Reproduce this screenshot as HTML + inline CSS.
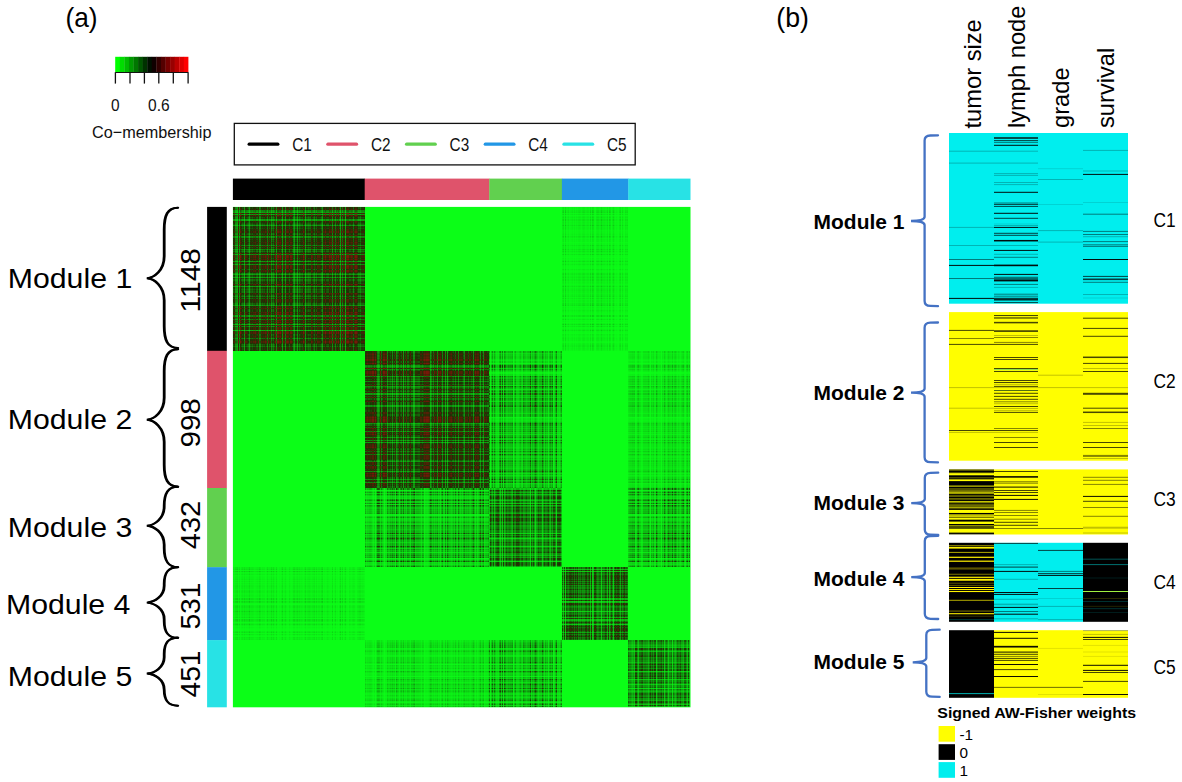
<!DOCTYPE html>
<html lang="en"><head><meta charset="utf-8"><title>Figure: co-membership heatmap and signed AW-Fisher weights</title>
<style>html,body{margin:0;padding:0;background:#fff}body{width:1182px;height:782px;overflow:hidden}svg{display:block}</style>
</head><body>
<svg width="1182" height="782" viewBox="0 0 1182 782" font-family='"Liberation Sans", sans-serif'>
<defs>
<g id="vc0"><rect x="0" width="1" height="1" fill="#c0c0c0"/><rect x="1" width="1" height="1" fill="#dddddd"/><rect x="2" width="1" height="1" fill="#7d7d7d"/><rect x="3" width="1" height="1" fill="#787878"/><rect x="4" width="1" height="1" fill="#616161"/><rect x="5" width="1" height="1" fill="#ffffff"/><rect x="6" width="1" height="1" fill="#6a6a6a"/><rect x="7" width="1" height="1" fill="#ffffff"/><rect x="8" width="1" height="1" fill="#cecece"/><rect x="9" width="1" height="1" fill="#ababab"/><rect x="10" width="1" height="1" fill="#bcbcbc"/><rect x="11" width="1" height="1" fill="#636363"/><rect x="12" width="1" height="1" fill="#e1e1e1"/><rect x="13" width="1" height="1" fill="#cbcbcb"/><rect x="14" width="1" height="1" fill="#b8b8b8"/><rect x="15" width="1" height="1" fill="#9f9f9f"/><rect x="16" width="1" height="1" fill="#696969"/><rect x="17" width="1" height="1" fill="#bcbcbc"/><rect x="18" width="1" height="1" fill="#cacaca"/><rect x="19" width="1" height="1" fill="#b4b4b4"/><rect x="20" width="1" height="1" fill="#d6d6d6"/><rect x="21" width="1" height="1" fill="#cecece"/><rect x="22" width="1" height="1" fill="#e9e9e9"/><rect x="23" width="1" height="1" fill="#bababa"/><rect x="24" width="1" height="1" fill="#adadad"/><rect x="25" width="1" height="1" fill="#e4e4e4"/><rect x="26" width="1" height="1" fill="#7c7c7c"/><rect x="27" width="1" height="1" fill="#888888"/><rect x="28" width="1" height="1" fill="#d3d3d3"/><rect x="29" width="1" height="1" fill="#bdbdbd"/><rect x="30" width="1" height="1" fill="#d3d3d3"/><rect x="31" width="1" height="1" fill="#c6c6c6"/><rect x="32" width="1" height="1" fill="#ececec"/><rect x="33" width="1" height="1" fill="#d4d4d4"/><rect x="34" width="1" height="1" fill="#8a8a8a"/><rect x="35" width="1" height="1" fill="#ededed"/><rect x="36" width="1" height="1" fill="#b4b4b4"/><rect x="37" width="1" height="1" fill="#d5d5d5"/><rect x="38" width="1" height="1" fill="#7a7a7a"/><rect x="39" width="1" height="1" fill="#ababab"/><rect x="40" width="1" height="1" fill="#8e8e8e"/><rect x="41" width="1" height="1" fill="#bdbdbd"/><rect x="42" width="1" height="1" fill="#f7f7f7"/><rect x="43" width="1" height="1" fill="#797979"/><rect x="44" width="1" height="1" fill="#ffffff"/><rect x="45" width="1" height="1" fill="#ffffff"/><rect x="46" width="1" height="1" fill="#dedede"/><rect x="47" width="1" height="1" fill="#ffffff"/><rect x="48" width="1" height="1" fill="#c9c9c9"/><rect x="49" width="1" height="1" fill="#6b6b6b"/><rect x="50" width="1" height="1" fill="#eaeaea"/><rect x="51" width="1" height="1" fill="#d4d4d4"/><rect x="52" width="1" height="1" fill="#777777"/><rect x="53" width="1" height="1" fill="#ededed"/><rect x="54" width="1" height="1" fill="#f6f6f6"/><rect x="55" width="1" height="1" fill="#ececec"/><rect x="56" width="1" height="1" fill="#b5b5b5"/><rect x="57" width="1" height="1" fill="#f3f3f3"/><rect x="58" width="1" height="1" fill="#f2f2f2"/><rect x="59" width="1" height="1" fill="#cccccc"/><rect x="60" width="1" height="1" fill="#858585"/><rect x="61" width="1" height="1" fill="#606060"/><rect x="62" width="1" height="1" fill="#b4b4b4"/><rect x="63" width="1" height="1" fill="#ababab"/><rect x="64" width="1" height="1" fill="#656565"/><rect x="65" width="1" height="1" fill="#c7c7c7"/><rect x="66" width="1" height="1" fill="#959595"/><rect x="67" width="1" height="1" fill="#b6b6b6"/><rect x="68" width="1" height="1" fill="#c8c8c8"/><rect x="69" width="1" height="1" fill="#b5b5b5"/><rect x="70" width="1" height="1" fill="#ffffff"/><rect x="71" width="1" height="1" fill="#d4d4d4"/><rect x="72" width="1" height="1" fill="#626262"/><rect x="73" width="1" height="1" fill="#bfbfbf"/><rect x="74" width="1" height="1" fill="#b4b4b4"/><rect x="75" width="1" height="1" fill="#9a9a9a"/><rect x="76" width="1" height="1" fill="#adadad"/><rect x="77" width="1" height="1" fill="#a1a1a1"/><rect x="78" width="1" height="1" fill="#ebebeb"/><rect x="79" width="1" height="1" fill="#d1d1d1"/><rect x="80" width="1" height="1" fill="#b4b4b4"/><rect x="81" width="1" height="1" fill="#8e8e8e"/><rect x="82" width="1" height="1" fill="#d0d0d0"/><rect x="83" width="1" height="1" fill="#a5a5a5"/><rect x="84" width="1" height="1" fill="#e0e0e0"/><rect x="85" width="1" height="1" fill="#d4d4d4"/><rect x="86" width="1" height="1" fill="#d1d1d1"/><rect x="87" width="1" height="1" fill="#c3c3c3"/><rect x="88" width="1" height="1" fill="#9f9f9f"/><rect x="89" width="1" height="1" fill="#6e6e6e"/><rect x="90" width="1" height="1" fill="#dddddd"/><rect x="91" width="1" height="1" fill="#cccccc"/><rect x="92" width="1" height="1" fill="#ffffff"/><rect x="93" width="1" height="1" fill="#cccccc"/><rect x="94" width="1" height="1" fill="#c3c3c3"/><rect x="95" width="1" height="1" fill="#c3c3c3"/><rect x="96" width="1" height="1" fill="#ffffff"/><rect x="97" width="1" height="1" fill="#dedede"/><rect x="98" width="1" height="1" fill="#fcfcfc"/><rect x="99" width="1" height="1" fill="#878787"/><rect x="100" width="1" height="1" fill="#f8f8f8"/><rect x="101" width="1" height="1" fill="#dbdbdb"/><rect x="102" width="1" height="1" fill="#909090"/><rect x="103" width="1" height="1" fill="#f5f5f5"/><rect x="104" width="1" height="1" fill="#d0d0d0"/><rect x="105" width="1" height="1" fill="#ffffff"/><rect x="106" width="1" height="1" fill="#bbbbbb"/><rect x="107" width="1" height="1" fill="#656565"/><rect x="108" width="1" height="1" fill="#f4f4f4"/><rect x="109" width="1" height="1" fill="#929292"/><rect x="110" width="1" height="1" fill="#eaeaea"/><rect x="111" width="1" height="1" fill="#e2e2e2"/><rect x="112" width="1" height="1" fill="#5c5c5c"/><rect x="113" width="1" height="1" fill="#efefef"/><rect x="114" width="1" height="1" fill="#ffffff"/><rect x="115" width="1" height="1" fill="#ffffff"/><rect x="116" width="1" height="1" fill="#cbcbcb"/><rect x="117" width="1" height="1" fill="#d2d2d2"/><rect x="118" width="1" height="1" fill="#ededed"/><rect x="119" width="1" height="1" fill="#dcdcdc"/><rect x="120" width="1" height="1" fill="#989898"/><rect x="121" width="1" height="1" fill="#dbdbdb"/><rect x="122" width="1" height="1" fill="#ffffff"/><rect x="123" width="1" height="1" fill="#fcfcfc"/><rect x="124" width="1" height="1" fill="#d5d5d5"/><rect x="125" width="1" height="1" fill="#a5a5a5"/><rect x="126" width="1" height="1" fill="#b0b0b0"/><rect x="127" width="1" height="1" fill="#909090"/><rect x="128" width="1" height="1" fill="#c1c1c1"/><rect x="129" width="1" height="1" fill="#c5c5c5"/><rect x="130" width="1" height="1" fill="#c0c0c0"/><rect x="131" width="1" height="1" fill="#d4d4d4"/></g>
<g id="hr0" fill="#000"><rect y="0" width="1" height="1" fill-opacity="0.24"/><rect y="1" width="1" height="1" fill-opacity="0.24"/><rect y="2" width="1" height="1" fill-opacity="0.13"/><rect y="3" width="1" height="1" fill-opacity="0.51"/><rect y="4" width="1" height="1" fill-opacity="0.53"/><rect y="5" width="1" height="1" fill-opacity="0.62"/><rect y="6" width="1" height="1" fill-opacity="0"/><rect y="7" width="1" height="1" fill-opacity="0.58"/><rect y="8" width="1" height="1" fill-opacity="0"/><rect y="9" width="1" height="1" fill-opacity="0.19"/><rect y="10" width="1" height="1" fill-opacity="0.33"/><rect y="11" width="1" height="1" fill-opacity="0.26"/><rect y="12" width="1" height="1" fill-opacity="0.61"/><rect y="13" width="1" height="1" fill-opacity="0.61"/><rect y="14" width="1" height="1" fill-opacity="0.12"/><rect y="15" width="1" height="1" fill-opacity="0.2"/><rect y="16" width="1" height="1" fill-opacity="0.28"/><rect y="17" width="1" height="1" fill-opacity="0.38"/><rect y="18" width="1" height="1" fill-opacity="0.59"/><rect y="19" width="1" height="1" fill-opacity="0.26"/><rect y="20" width="1" height="1" fill-opacity="0.21"/><rect y="21" width="1" height="1" fill-opacity="0.29"/><rect y="22" width="1" height="1" fill-opacity="0.16"/><rect y="23" width="1" height="1" fill-opacity="0.19"/><rect y="24" width="1" height="1" fill-opacity="0.08"/><rect y="25" width="1" height="1" fill-opacity="0.08"/><rect y="26" width="1" height="1" fill-opacity="0.27"/><rect y="27" width="1" height="1" fill-opacity="0.32"/><rect y="28" width="1" height="1" fill-opacity="0.1"/><rect y="29" width="1" height="1" fill-opacity="0.51"/><rect y="30" width="1" height="1" fill-opacity="0.47"/><rect y="31" width="1" height="1" fill-opacity="0.17"/><rect y="32" width="1" height="1" fill-opacity="0.26"/><rect y="33" width="1" height="1" fill-opacity="0.17"/><rect y="34" width="1" height="1" fill-opacity="0.22"/><rect y="35" width="1" height="1" fill-opacity="0.07"/><rect y="36" width="1" height="1" fill-opacity="0.17"/><rect y="37" width="1" height="1" fill-opacity="0.17"/><rect y="38" width="1" height="1" fill-opacity="0.46"/><rect y="39" width="1" height="1" fill-opacity="0.07"/><rect y="40" width="1" height="1" fill-opacity="0.29"/><rect y="41" width="1" height="1" fill-opacity="0.16"/><rect y="42" width="1" height="1" fill-opacity="0.52"/><rect y="43" width="1" height="1" fill-opacity="0.33"/><rect y="44" width="1" height="1" fill-opacity="0.44"/><rect y="45" width="1" height="1" fill-opacity="0.26"/><rect y="46" width="1" height="1" fill-opacity="0.03"/><rect y="47" width="1" height="1" fill-opacity="0.52"/><rect y="48" width="1" height="1" fill-opacity="0"/><rect y="49" width="1" height="1" fill-opacity="0"/><rect y="50" width="1" height="1" fill-opacity="0"/><rect y="51" width="1" height="1" fill-opacity="0.13"/><rect y="52" width="1" height="1" fill-opacity="0"/><rect y="53" width="1" height="1" fill-opacity="0.21"/><rect y="54" width="1" height="1" fill-opacity="0.58"/><rect y="55" width="1" height="1" fill-opacity="0.08"/><rect y="56" width="1" height="1" fill-opacity="0.17"/><rect y="57" width="1" height="1" fill-opacity="0.53"/><rect y="58" width="1" height="1" fill-opacity="0.07"/><rect y="59" width="1" height="1" fill-opacity="0.03"/><rect y="60" width="1" height="1" fill-opacity="0.07"/><rect y="61" width="1" height="1" fill-opacity="0.07"/><rect y="62" width="1" height="1" fill-opacity="0.29"/><rect y="63" width="1" height="1" fill-opacity="0.04"/><rect y="64" width="1" height="1" fill-opacity="0.05"/><rect y="65" width="1" height="1" fill-opacity="0.2"/><rect y="66" width="1" height="1" fill-opacity="0.48"/><rect y="67" width="1" height="1" fill-opacity="0.62"/><rect y="68" width="1" height="1" fill-opacity="0.29"/><rect y="69" width="1" height="1" fill-opacity="0.33"/><rect y="70" width="1" height="1" fill-opacity="0.6"/><rect y="71" width="1" height="1" fill-opacity="0.22"/><rect y="72" width="1" height="1" fill-opacity="0.41"/><rect y="73" width="1" height="1" fill-opacity="0.41"/><rect y="74" width="1" height="1" fill-opacity="0.29"/><rect y="75" width="1" height="1" fill-opacity="0.21"/><rect y="76" width="1" height="1" fill-opacity="0.29"/><rect y="77" width="1" height="1" fill-opacity="0"/><rect y="78" width="1" height="1" fill-opacity="0.17"/><rect y="79" width="1" height="1" fill-opacity="0.61"/><rect y="80" width="1" height="1" fill-opacity="0.25"/><rect y="81" width="1" height="1" fill-opacity="0.29"/><rect y="82" width="1" height="1" fill-opacity="0.39"/><rect y="83" width="1" height="1" fill-opacity="0.32"/><rect y="84" width="1" height="1" fill-opacity="0.37"/><rect y="85" width="1" height="1" fill-opacity="0.37"/><rect y="86" width="1" height="1" fill-opacity="0.08"/><rect y="87" width="1" height="1" fill-opacity="0.18"/><rect y="88" width="1" height="1" fill-opacity="0.29"/><rect y="89" width="1" height="1" fill-opacity="0.44"/><rect y="90" width="1" height="1" fill-opacity="0.18"/><rect y="91" width="1" height="1" fill-opacity="0.35"/><rect y="92" width="1" height="1" fill-opacity="0.12"/><rect y="93" width="1" height="1" fill-opacity="0.17"/><rect y="94" width="1" height="1" fill-opacity="0.18"/><rect y="95" width="1" height="1" fill-opacity="0.23"/><rect y="96" width="1" height="1" fill-opacity="0.38"/><rect y="97" width="1" height="1" fill-opacity="0.38"/><rect y="98" width="1" height="1" fill-opacity="0.57"/><rect y="99" width="1" height="1" fill-opacity="0.13"/><rect y="100" width="1" height="1" fill-opacity="0.2"/><rect y="101" width="1" height="1" fill-opacity="0"/><rect y="102" width="1" height="1" fill-opacity="0.2"/><rect y="103" width="1" height="1" fill-opacity="0.23"/><rect y="104" width="1" height="1" fill-opacity="0.23"/><rect y="105" width="1" height="1" fill-opacity="0"/><rect y="106" width="1" height="1" fill-opacity="0.13"/><rect y="107" width="1" height="1" fill-opacity="0.01"/><rect y="108" width="1" height="1" fill-opacity="0.47"/><rect y="109" width="1" height="1" fill-opacity="0.47"/><rect y="110" width="1" height="1" fill-opacity="0.02"/><rect y="111" width="1" height="1" fill-opacity="0.14"/><rect y="112" width="1" height="1" fill-opacity="0.43"/><rect y="113" width="1" height="1" fill-opacity="0.04"/><rect y="114" width="1" height="1" fill-opacity="0.18"/><rect y="115" width="1" height="1" fill-opacity="0"/><rect y="116" width="1" height="1" fill-opacity="0.27"/><rect y="117" width="1" height="1" fill-opacity="0.6"/><rect y="118" width="1" height="1" fill-opacity="0.04"/><rect y="119" width="1" height="1" fill-opacity="0.43"/><rect y="120" width="1" height="1" fill-opacity="0.08"/><rect y="121" width="1" height="1" fill-opacity="0.08"/><rect y="122" width="1" height="1" fill-opacity="0.11"/><rect y="123" width="1" height="1" fill-opacity="0.64"/><rect y="124" width="1" height="1" fill-opacity="0.06"/><rect y="125" width="1" height="1" fill-opacity="0"/><rect y="126" width="1" height="1" fill-opacity="0"/><rect y="127" width="1" height="1" fill-opacity="0.2"/><rect y="128" width="1" height="1" fill-opacity="0.17"/><rect y="129" width="1" height="1" fill-opacity="0.07"/><rect y="130" width="1" height="1" fill-opacity="0.13"/><rect y="131" width="1" height="1" fill-opacity="0.4"/><rect y="132" width="1" height="1" fill-opacity="0.14"/><rect y="133" width="1" height="1" fill-opacity="0.14"/><rect y="134" width="1" height="1" fill-opacity="0"/><rect y="135" width="1" height="1" fill-opacity="0.01"/><rect y="136" width="1" height="1" fill-opacity="0.16"/><rect y="137" width="1" height="1" fill-opacity="0.35"/><rect y="138" width="1" height="1" fill-opacity="0.31"/><rect y="139" width="1" height="1" fill-opacity="0.43"/><rect y="140" width="1" height="1" fill-opacity="0.24"/><rect y="141" width="1" height="1" fill-opacity="0.23"/><rect y="142" width="1" height="1" fill-opacity="0.25"/><rect y="143" width="1" height="1" fill-opacity="0.17"/></g>
<g id="vq0"><rect x="0" width="1" height="1" fill="#696969"/><rect x="1" width="1" height="1" fill="#555555"/><rect x="2" width="1" height="1" fill="#9e9e9e"/><rect x="3" width="1" height="1" fill="#acacac"/><rect x="4" width="1" height="1" fill="#d1d1d1"/><rect x="5" width="1" height="1" fill="#4d4d4d"/><rect x="6" width="1" height="1" fill="#afafaf"/><rect x="7" width="1" height="1" fill="#323232"/><rect x="8" width="1" height="1" fill="#767676"/><rect x="9" width="1" height="1" fill="#a2a2a2"/><rect x="10" width="1" height="1" fill="#626262"/><rect x="11" width="1" height="1" fill="#b7b7b7"/><rect x="12" width="1" height="1" fill="#6b6b6b"/><rect x="13" width="1" height="1" fill="#838383"/><rect x="14" width="1" height="1" fill="#787878"/><rect x="15" width="1" height="1" fill="#777777"/><rect x="16" width="1" height="1" fill="#e2e2e2"/><rect x="17" width="1" height="1" fill="#6e6e6e"/><rect x="18" width="1" height="1" fill="#808080"/><rect x="19" width="1" height="1" fill="#848484"/><rect x="20" width="1" height="1" fill="#6e6e6e"/><rect x="21" width="1" height="1" fill="#4e4e4e"/><rect x="22" width="1" height="1" fill="#595959"/><rect x="23" width="1" height="1" fill="#666666"/><rect x="24" width="1" height="1" fill="#7e7e7e"/><rect x="25" width="1" height="1" fill="#626262"/><rect x="26" width="1" height="1" fill="#c9c9c9"/><rect x="27" width="1" height="1" fill="#969696"/><rect x="28" width="1" height="1" fill="#4c4c4c"/><rect x="29" width="1" height="1" fill="#6e6e6e"/><rect x="30" width="1" height="1" fill="#606060"/><rect x="31" width="1" height="1" fill="#646464"/><rect x="32" width="1" height="1" fill="#2e2e2e"/><rect x="33" width="1" height="1" fill="#4e4e4e"/><rect x="34" width="1" height="1" fill="#b5b5b5"/><rect x="35" width="1" height="1" fill="#5c5c5c"/><rect x="36" width="1" height="1" fill="#616161"/><rect x="37" width="1" height="1" fill="#606060"/><rect x="38" width="1" height="1" fill="#c7c7c7"/><rect x="39" width="1" height="1" fill="#696969"/><rect x="40" width="1" height="1" fill="#b7b7b7"/><rect x="41" width="1" height="1" fill="#5d5d5d"/><rect x="42" width="1" height="1" fill="#404040"/><rect x="43" width="1" height="1" fill="#bbbbbb"/><rect x="44" width="1" height="1" fill="#3a3a3a"/><rect x="45" width="1" height="1" fill="#272727"/><rect x="46" width="1" height="1" fill="#4e4e4e"/><rect x="47" width="1" height="1" fill="#383838"/><rect x="48" width="1" height="1" fill="#646464"/><rect x="49" width="1" height="1" fill="#d0d0d0"/><rect x="50" width="1" height="1" fill="#444444"/><rect x="51" width="1" height="1" fill="#595959"/><rect x="52" width="1" height="1" fill="#9d9d9d"/><rect x="53" width="1" height="1" fill="#4b4b4b"/><rect x="54" width="1" height="1" fill="#3b3b3b"/><rect x="55" width="1" height="1" fill="#353535"/><rect x="56" width="1" height="1" fill="#8c8c8c"/><rect x="57" width="1" height="1" fill="#4f4f4f"/><rect x="58" width="1" height="1" fill="#3d3d3d"/><rect x="59" width="1" height="1" fill="#515151"/><rect x="60" width="1" height="1" fill="#aaaaaa"/><rect x="61" width="1" height="1" fill="#b9b9b9"/><rect x="62" width="1" height="1" fill="#666666"/><rect x="63" width="1" height="1" fill="#828282"/><rect x="64" width="1" height="1" fill="#b3b3b3"/><rect x="65" width="1" height="1" fill="#676767"/><rect x="66" width="1" height="1" fill="#9c9c9c"/><rect x="67" width="1" height="1" fill="#5f5f5f"/><rect x="68" width="1" height="1" fill="#717171"/><rect x="69" width="1" height="1" fill="#636363"/><rect x="70" width="1" height="1" fill="#414141"/><rect x="71" width="1" height="1" fill="#6e6e6e"/><rect x="72" width="1" height="1" fill="#d0d0d0"/><rect x="73" width="1" height="1" fill="#575757"/><rect x="74" width="1" height="1" fill="#7e7e7e"/><rect x="75" width="1" height="1" fill="#8f8f8f"/><rect x="76" width="1" height="1" fill="#9f9f9f"/><rect x="77" width="1" height="1" fill="#7a7a7a"/><rect x="78" width="1" height="1" fill="#5c5c5c"/><rect x="79" width="1" height="1" fill="#7f7f7f"/><rect x="80" width="1" height="1" fill="#8b8b8b"/><rect x="81" width="1" height="1" fill="#b6b6b6"/><rect x="82" width="1" height="1" fill="#4e4e4e"/><rect x="83" width="1" height="1" fill="#a9a9a9"/><rect x="84" width="1" height="1" fill="#505050"/><rect x="85" width="1" height="1" fill="#797979"/><rect x="86" width="1" height="1" fill="#797979"/><rect x="87" width="1" height="1" fill="#5a5a5a"/><rect x="88" width="1" height="1" fill="#a4a4a4"/><rect x="89" width="1" height="1" fill="#dedede"/><rect x="90" width="1" height="1" fill="#393939"/><rect x="91" width="1" height="1" fill="#5b5b5b"/><rect x="92" width="1" height="1" fill="#424242"/><rect x="93" width="1" height="1" fill="#505050"/><rect x="94" width="1" height="1" fill="#878787"/><rect x="95" width="1" height="1" fill="#616161"/><rect x="96" width="1" height="1" fill="#464646"/><rect x="97" width="1" height="1" fill="#3d3d3d"/><rect x="98" width="1" height="1" fill="#363636"/><rect x="99" width="1" height="1" fill="#c4c4c4"/><rect x="100" width="1" height="1" fill="#272727"/><rect x="101" width="1" height="1" fill="#474747"/><rect x="102" width="1" height="1" fill="#a2a2a2"/><rect x="103" width="1" height="1" fill="#313131"/><rect x="104" width="1" height="1" fill="#454545"/><rect x="105" width="1" height="1" fill="#1f1f1f"/><rect x="106" width="1" height="1" fill="#626262"/><rect x="107" width="1" height="1" fill="#e6e6e6"/><rect x="108" width="1" height="1" fill="#484848"/><rect x="109" width="1" height="1" fill="#b7b7b7"/><rect x="110" width="1" height="1" fill="#333333"/><rect x="111" width="1" height="1" fill="#616161"/><rect x="112" width="1" height="1" fill="#bdbdbd"/><rect x="113" width="1" height="1" fill="#434343"/><rect x="114" width="1" height="1" fill="#3b3b3b"/><rect x="115" width="1" height="1" fill="#2a2a2a"/><rect x="116" width="1" height="1" fill="#7d7d7d"/><rect x="117" width="1" height="1" fill="#626262"/><rect x="118" width="1" height="1" fill="#484848"/><rect x="119" width="1" height="1" fill="#6c6c6c"/><rect x="120" width="1" height="1" fill="#818181"/><rect x="121" width="1" height="1" fill="#747474"/><rect x="122" width="1" height="1" fill="#3a3a3a"/><rect x="123" width="1" height="1" fill="#2f2f2f"/><rect x="124" width="1" height="1" fill="#6e6e6e"/><rect x="125" width="1" height="1" fill="#7d7d7d"/><rect x="126" width="1" height="1" fill="#9f9f9f"/><rect x="127" width="1" height="1" fill="#a5a5a5"/><rect x="128" width="1" height="1" fill="#686868"/><rect x="129" width="1" height="1" fill="#7d7d7d"/><rect x="130" width="1" height="1" fill="#6e6e6e"/><rect x="131" width="1" height="1" fill="#4a4a4a"/></g>
<g id="hq0" fill="#000"><rect y="0" width="1" height="1" fill-opacity="0.59"/><rect y="1" width="1" height="1" fill-opacity="0.59"/><rect y="2" width="1" height="1" fill-opacity="0.67"/><rect y="3" width="1" height="1" fill-opacity="0.38"/><rect y="4" width="1" height="1" fill-opacity="0.32"/><rect y="5" width="1" height="1" fill-opacity="0.18"/><rect y="6" width="1" height="1" fill-opacity="0.7"/><rect y="7" width="1" height="1" fill-opacity="0.31"/><rect y="8" width="1" height="1" fill-opacity="0.8"/><rect y="9" width="1" height="1" fill-opacity="0.54"/><rect y="10" width="1" height="1" fill-opacity="0.36"/><rect y="11" width="1" height="1" fill-opacity="0.61"/><rect y="12" width="1" height="1" fill-opacity="0.28"/><rect y="13" width="1" height="1" fill-opacity="0.28"/><rect y="14" width="1" height="1" fill-opacity="0.58"/><rect y="15" width="1" height="1" fill-opacity="0.48"/><rect y="16" width="1" height="1" fill-opacity="0.53"/><rect y="17" width="1" height="1" fill-opacity="0.53"/><rect y="18" width="1" height="1" fill-opacity="0.11"/><rect y="19" width="1" height="1" fill-opacity="0.57"/><rect y="20" width="1" height="1" fill-opacity="0.5"/><rect y="21" width="1" height="1" fill-opacity="0.48"/><rect y="22" width="1" height="1" fill-opacity="0.56"/><rect y="23" width="1" height="1" fill-opacity="0.69"/><rect y="24" width="1" height="1" fill-opacity="0.65"/><rect y="25" width="1" height="1" fill-opacity="0.65"/><rect y="26" width="1" height="1" fill-opacity="0.6"/><rect y="27" width="1" height="1" fill-opacity="0.5"/><rect y="28" width="1" height="1" fill-opacity="0.61"/><rect y="29" width="1" height="1" fill-opacity="0.21"/><rect y="30" width="1" height="1" fill-opacity="0.41"/><rect y="31" width="1" height="1" fill-opacity="0.7"/><rect y="32" width="1" height="1" fill-opacity="0.57"/><rect y="33" width="1" height="1" fill-opacity="0.62"/><rect y="34" width="1" height="1" fill-opacity="0.6"/><rect y="35" width="1" height="1" fill-opacity="0.82"/><rect y="36" width="1" height="1" fill-opacity="0.69"/><rect y="37" width="1" height="1" fill-opacity="0.69"/><rect y="38" width="1" height="1" fill-opacity="0.29"/><rect y="39" width="1" height="1" fill-opacity="0.64"/><rect y="40" width="1" height="1" fill-opacity="0.62"/><rect y="41" width="1" height="1" fill-opacity="0.62"/><rect y="42" width="1" height="1" fill-opacity="0.22"/><rect y="43" width="1" height="1" fill-opacity="0.59"/><rect y="44" width="1" height="1" fill-opacity="0.28"/><rect y="45" width="1" height="1" fill-opacity="0.63"/><rect y="46" width="1" height="1" fill-opacity="0.75"/><rect y="47" width="1" height="1" fill-opacity="0.26"/><rect y="48" width="1" height="1" fill-opacity="0.77"/><rect y="49" width="1" height="1" fill-opacity="0.77"/><rect y="50" width="1" height="1" fill-opacity="0.85"/><rect y="51" width="1" height="1" fill-opacity="0.69"/><rect y="52" width="1" height="1" fill-opacity="0.78"/><rect y="53" width="1" height="1" fill-opacity="0.61"/><rect y="54" width="1" height="1" fill-opacity="0.18"/><rect y="55" width="1" height="1" fill-opacity="0.73"/><rect y="56" width="1" height="1" fill-opacity="0.65"/><rect y="57" width="1" height="1" fill-opacity="0.38"/><rect y="58" width="1" height="1" fill-opacity="0.7"/><rect y="59" width="1" height="1" fill-opacity="0.77"/><rect y="60" width="1" height="1" fill-opacity="0.79"/><rect y="61" width="1" height="1" fill-opacity="0.79"/><rect y="62" width="1" height="1" fill-opacity="0.45"/><rect y="63" width="1" height="1" fill-opacity="0.69"/><rect y="64" width="1" height="1" fill-opacity="0.76"/><rect y="65" width="1" height="1" fill-opacity="0.68"/><rect y="66" width="1" height="1" fill-opacity="0.33"/><rect y="67" width="1" height="1" fill-opacity="0.27"/><rect y="68" width="1" height="1" fill-opacity="0.6"/><rect y="69" width="1" height="1" fill-opacity="0.49"/><rect y="70" width="1" height="1" fill-opacity="0.3"/><rect y="71" width="1" height="1" fill-opacity="0.59"/><rect y="72" width="1" height="1" fill-opacity="0.38"/><rect y="73" width="1" height="1" fill-opacity="0.38"/><rect y="74" width="1" height="1" fill-opacity="0.62"/><rect y="75" width="1" height="1" fill-opacity="0.55"/><rect y="76" width="1" height="1" fill-opacity="0.61"/><rect y="77" width="1" height="1" fill-opacity="0.74"/><rect y="78" width="1" height="1" fill-opacity="0.57"/><rect y="79" width="1" height="1" fill-opacity="0.18"/><rect y="80" width="1" height="1" fill-opacity="0.66"/><rect y="81" width="1" height="1" fill-opacity="0.51"/><rect y="82" width="1" height="1" fill-opacity="0.44"/><rect y="83" width="1" height="1" fill-opacity="0.37"/><rect y="84" width="1" height="1" fill-opacity="0.52"/><rect y="85" width="1" height="1" fill-opacity="0.52"/><rect y="86" width="1" height="1" fill-opacity="0.64"/><rect y="87" width="1" height="1" fill-opacity="0.5"/><rect y="88" width="1" height="1" fill-opacity="0.45"/><rect y="89" width="1" height="1" fill-opacity="0.29"/><rect y="90" width="1" height="1" fill-opacity="0.69"/><rect y="91" width="1" height="1" fill-opacity="0.33"/><rect y="92" width="1" height="1" fill-opacity="0.68"/><rect y="93" width="1" height="1" fill-opacity="0.52"/><rect y="94" width="1" height="1" fill-opacity="0.52"/><rect y="95" width="1" height="1" fill-opacity="0.65"/><rect y="96" width="1" height="1" fill-opacity="0.36"/><rect y="97" width="1" height="1" fill-opacity="0.36"/><rect y="98" width="1" height="1" fill-opacity="0.13"/><rect y="99" width="1" height="1" fill-opacity="0.77"/><rect y="100" width="1" height="1" fill-opacity="0.64"/><rect y="101" width="1" height="1" fill-opacity="0.74"/><rect y="102" width="1" height="1" fill-opacity="0.69"/><rect y="103" width="1" height="1" fill-opacity="0.47"/><rect y="104" width="1" height="1" fill-opacity="0.62"/><rect y="105" width="1" height="1" fill-opacity="0.72"/><rect y="106" width="1" height="1" fill-opacity="0.76"/><rect y="107" width="1" height="1" fill-opacity="0.79"/><rect y="108" width="1" height="1" fill-opacity="0.23"/><rect y="109" width="1" height="1" fill-opacity="0.23"/><rect y="110" width="1" height="1" fill-opacity="0.85"/><rect y="111" width="1" height="1" fill-opacity="0.72"/><rect y="112" width="1" height="1" fill-opacity="0.36"/><rect y="113" width="1" height="1" fill-opacity="0.81"/><rect y="114" width="1" height="1" fill-opacity="0.73"/><rect y="115" width="1" height="1" fill-opacity="0.88"/><rect y="116" width="1" height="1" fill-opacity="0.61"/><rect y="117" width="1" height="1" fill-opacity="0.09"/><rect y="118" width="1" height="1" fill-opacity="0.72"/><rect y="119" width="1" height="1" fill-opacity="0.28"/><rect y="120" width="1" height="1" fill-opacity="0.8"/><rect y="121" width="1" height="1" fill-opacity="0.8"/><rect y="122" width="1" height="1" fill-opacity="0.62"/><rect y="123" width="1" height="1" fill-opacity="0.26"/><rect y="124" width="1" height="1" fill-opacity="0.73"/><rect y="125" width="1" height="1" fill-opacity="0.77"/><rect y="126" width="1" height="1" fill-opacity="0.83"/><rect y="127" width="1" height="1" fill-opacity="0.51"/><rect y="128" width="1" height="1" fill-opacity="0.61"/><rect y="129" width="1" height="1" fill-opacity="0.71"/><rect y="130" width="1" height="1" fill-opacity="0.57"/><rect y="131" width="1" height="1" fill-opacity="0.49"/><rect y="132" width="1" height="1" fill-opacity="0.54"/><rect y="133" width="1" height="1" fill-opacity="0.54"/><rect y="134" width="1" height="1" fill-opacity="0.77"/><rect y="135" width="1" height="1" fill-opacity="0.81"/><rect y="136" width="1" height="1" fill-opacity="0.57"/><rect y="137" width="1" height="1" fill-opacity="0.51"/><rect y="138" width="1" height="1" fill-opacity="0.37"/><rect y="139" width="1" height="1" fill-opacity="0.35"/><rect y="140" width="1" height="1" fill-opacity="0.59"/><rect y="141" width="1" height="1" fill-opacity="0.51"/><rect y="142" width="1" height="1" fill-opacity="0.57"/><rect y="143" width="1" height="1" fill-opacity="0.71"/></g>
<g id="vc1"><rect x="0" width="1" height="1" fill="#c5c5c5"/><rect x="1" width="1" height="1" fill="#d8d8d8"/><rect x="2" width="1" height="1" fill="#eeeeee"/><rect x="3" width="1" height="1" fill="#d2d2d2"/><rect x="4" width="1" height="1" fill="#d7d7d7"/><rect x="5" width="1" height="1" fill="#e8e8e8"/><rect x="6" width="1" height="1" fill="#dcdcdc"/><rect x="7" width="1" height="1" fill="#ffffff"/><rect x="8" width="1" height="1" fill="#ffffff"/><rect x="9" width="1" height="1" fill="#c9c9c9"/><rect x="10" width="1" height="1" fill="#ffffff"/><rect x="11" width="1" height="1" fill="#c2c2c2"/><rect x="12" width="1" height="1" fill="#797979"/><rect x="13" width="1" height="1" fill="#6b6b6b"/><rect x="14" width="1" height="1" fill="#888888"/><rect x="15" width="1" height="1" fill="#ffffff"/><rect x="16" width="1" height="1" fill="#8b8b8b"/><rect x="17" width="1" height="1" fill="#c4c4c4"/><rect x="18" width="1" height="1" fill="#ffffff"/><rect x="19" width="1" height="1" fill="#ffffff"/><rect x="20" width="1" height="1" fill="#dbdbdb"/><rect x="21" width="1" height="1" fill="#f5f5f5"/><rect x="22" width="1" height="1" fill="#787878"/><rect x="23" width="1" height="1" fill="#c1c1c1"/><rect x="24" width="1" height="1" fill="#bcbcbc"/><rect x="25" width="1" height="1" fill="#a0a0a0"/><rect x="26" width="1" height="1" fill="#bfbfbf"/><rect x="27" width="1" height="1" fill="#717171"/><rect x="28" width="1" height="1" fill="#c1c1c1"/><rect x="29" width="1" height="1" fill="#9d9d9d"/><rect x="30" width="1" height="1" fill="#e5e5e5"/><rect x="31" width="1" height="1" fill="#6d6d6d"/><rect x="32" width="1" height="1" fill="#8f8f8f"/><rect x="33" width="1" height="1" fill="#a6a6a6"/><rect x="34" width="1" height="1" fill="#e7e7e7"/><rect x="35" width="1" height="1" fill="#b4b4b4"/><rect x="36" width="1" height="1" fill="#989898"/><rect x="37" width="1" height="1" fill="#dddddd"/><rect x="38" width="1" height="1" fill="#5f5f5f"/><rect x="39" width="1" height="1" fill="#c8c8c8"/><rect x="40" width="1" height="1" fill="#9a9a9a"/><rect x="41" width="1" height="1" fill="#e9e9e9"/><rect x="42" width="1" height="1" fill="#949494"/><rect x="43" width="1" height="1" fill="#959595"/><rect x="44" width="1" height="1" fill="#bfbfbf"/><rect x="45" width="1" height="1" fill="#eeeeee"/><rect x="46" width="1" height="1" fill="#ababab"/><rect x="47" width="1" height="1" fill="#b3b3b3"/><rect x="48" width="1" height="1" fill="#666666"/><rect x="49" width="1" height="1" fill="#696969"/><rect x="50" width="1" height="1" fill="#b8b8b8"/><rect x="51" width="1" height="1" fill="#b8b8b8"/><rect x="52" width="1" height="1" fill="#b1b1b1"/><rect x="53" width="1" height="1" fill="#a6a6a6"/><rect x="54" width="1" height="1" fill="#a8a8a8"/><rect x="55" width="1" height="1" fill="#dadada"/><rect x="56" width="1" height="1" fill="#d8d8d8"/><rect x="57" width="1" height="1" fill="#bababa"/><rect x="58" width="1" height="1" fill="#dcdcdc"/><rect x="59" width="1" height="1" fill="#ffffff"/><rect x="60" width="1" height="1" fill="#e9e9e9"/><rect x="61" width="1" height="1" fill="#ffffff"/><rect x="62" width="1" height="1" fill="#ffffff"/><rect x="63" width="1" height="1" fill="#f9f9f9"/><rect x="64" width="1" height="1" fill="#dddddd"/><rect x="65" width="1" height="1" fill="#646464"/><rect x="66" width="1" height="1" fill="#8c8c8c"/><rect x="67" width="1" height="1" fill="#c6c6c6"/><rect x="68" width="1" height="1" fill="#939393"/><rect x="69" width="1" height="1" fill="#eeeeee"/><rect x="70" width="1" height="1" fill="#c4c4c4"/><rect x="71" width="1" height="1" fill="#d5d5d5"/><rect x="72" width="1" height="1" fill="#797979"/><rect x="73" width="1" height="1" fill="#fbfbfb"/><rect x="74" width="1" height="1" fill="#d5d5d5"/><rect x="75" width="1" height="1" fill="#f7f7f7"/><rect x="76" width="1" height="1" fill="#c3c3c3"/><rect x="77" width="1" height="1" fill="#757575"/><rect x="78" width="1" height="1" fill="#d0d0d0"/><rect x="79" width="1" height="1" fill="#d1d1d1"/><rect x="80" width="1" height="1" fill="#6d6d6d"/><rect x="81" width="1" height="1" fill="#cacaca"/><rect x="82" width="1" height="1" fill="#5d5d5d"/><rect x="83" width="1" height="1" fill="#bdbdbd"/><rect x="84" width="1" height="1" fill="#d6d6d6"/><rect x="85" width="1" height="1" fill="#e1e1e1"/><rect x="86" width="1" height="1" fill="#f3f3f3"/><rect x="87" width="1" height="1" fill="#c2c2c2"/><rect x="88" width="1" height="1" fill="#b1b1b1"/><rect x="89" width="1" height="1" fill="#d8d8d8"/><rect x="90" width="1" height="1" fill="#939393"/><rect x="91" width="1" height="1" fill="#d0d0d0"/><rect x="92" width="1" height="1" fill="#dcdcdc"/><rect x="93" width="1" height="1" fill="#7e7e7e"/><rect x="94" width="1" height="1" fill="#d8d8d8"/><rect x="95" width="1" height="1" fill="#d5d5d5"/><rect x="96" width="1" height="1" fill="#dadada"/><rect x="97" width="1" height="1" fill="#cacaca"/><rect x="98" width="1" height="1" fill="#989898"/><rect x="99" width="1" height="1" fill="#737373"/><rect x="100" width="1" height="1" fill="#dbdbdb"/><rect x="101" width="1" height="1" fill="#cecece"/><rect x="102" width="1" height="1" fill="#d6d6d6"/><rect x="103" width="1" height="1" fill="#a2a2a2"/><rect x="104" width="1" height="1" fill="#e5e5e5"/><rect x="105" width="1" height="1" fill="#d7d7d7"/><rect x="106" width="1" height="1" fill="#b2b2b2"/><rect x="107" width="1" height="1" fill="#c5c5c5"/><rect x="108" width="1" height="1" fill="#6d6d6d"/><rect x="109" width="1" height="1" fill="#c5c5c5"/><rect x="110" width="1" height="1" fill="#ffffff"/><rect x="111" width="1" height="1" fill="#d7d7d7"/><rect x="112" width="1" height="1" fill="#f3f3f3"/><rect x="113" width="1" height="1" fill="#ececec"/><rect x="114" width="1" height="1" fill="#b9b9b9"/><rect x="115" width="1" height="1" fill="#6c6c6c"/><rect x="116" width="1" height="1" fill="#cbcbcb"/><rect x="117" width="1" height="1" fill="#afafaf"/><rect x="118" width="1" height="1" fill="#6d6d6d"/><rect x="119" width="1" height="1" fill="#eaeaea"/><rect x="120" width="1" height="1" fill="#c6c6c6"/><rect x="121" width="1" height="1" fill="#d5d5d5"/><rect x="122" width="1" height="1" fill="#b7b7b7"/><rect x="123" width="1" height="1" fill="#bfbfbf"/></g>
<g id="hr1" fill="#000"><rect y="0" width="1" height="1" fill-opacity="0.23"/><rect y="1" width="1" height="1" fill-opacity="0.23"/><rect y="2" width="1" height="1" fill-opacity="0.15"/><rect y="3" width="1" height="1" fill-opacity="0.07"/><rect y="4" width="1" height="1" fill-opacity="0.18"/><rect y="5" width="1" height="1" fill-opacity="0.15"/><rect y="6" width="1" height="1" fill-opacity="0.09"/><rect y="7" width="1" height="1" fill-opacity="0.14"/><rect y="8" width="1" height="1" fill-opacity="0"/><rect y="9" width="1" height="1" fill-opacity="0"/><rect y="10" width="1" height="1" fill-opacity="0.21"/><rect y="11" width="1" height="1" fill-opacity="0.21"/><rect y="12" width="1" height="1" fill-opacity="0"/><rect y="13" width="1" height="1" fill-opacity="0.24"/><rect y="14" width="1" height="1" fill-opacity="0.53"/><rect y="15" width="1" height="1" fill-opacity="0.58"/><rect y="16" width="1" height="1" fill-opacity="0.47"/><rect y="17" width="1" height="1" fill-opacity="0"/><rect y="18" width="1" height="1" fill-opacity="0.45"/><rect y="19" width="1" height="1" fill-opacity="0.23"/><rect y="20" width="1" height="1" fill-opacity="0"/><rect y="21" width="1" height="1" fill-opacity="0"/><rect y="22" width="1" height="1" fill-opacity="0"/><rect y="23" width="1" height="1" fill-opacity="0.14"/><rect y="24" width="1" height="1" fill-opacity="0.04"/><rect y="25" width="1" height="1" fill-opacity="0.53"/><rect y="26" width="1" height="1" fill-opacity="0.24"/><rect y="27" width="1" height="1" fill-opacity="0.26"/><rect y="28" width="1" height="1" fill-opacity="0.37"/><rect y="29" width="1" height="1" fill-opacity="0.25"/><rect y="30" width="1" height="1" fill-opacity="0.55"/><rect y="31" width="1" height="1" fill-opacity="0.24"/><rect y="32" width="1" height="1" fill-opacity="0.24"/><rect y="33" width="1" height="1" fill-opacity="0.38"/><rect y="34" width="1" height="1" fill-opacity="0.1"/><rect y="35" width="1" height="1" fill-opacity="0.57"/><rect y="36" width="1" height="1" fill-opacity="0.44"/><rect y="37" width="1" height="1" fill-opacity="0.35"/><rect y="38" width="1" height="1" fill-opacity="0.09"/><rect y="39" width="1" height="1" fill-opacity="0.29"/><rect y="40" width="1" height="1" fill-opacity="0.4"/><rect y="41" width="1" height="1" fill-opacity="0.13"/><rect y="42" width="1" height="1" fill-opacity="0.63"/><rect y="43" width="1" height="1" fill-opacity="0.63"/><rect y="44" width="1" height="1" fill-opacity="0.21"/><rect y="45" width="1" height="1" fill-opacity="0.4"/><rect y="46" width="1" height="1" fill-opacity="0.09"/><rect y="47" width="1" height="1" fill-opacity="0.42"/><rect y="48" width="1" height="1" fill-opacity="0.42"/><rect y="49" width="1" height="1" fill-opacity="0.25"/><rect y="50" width="1" height="1" fill-opacity="0.06"/><rect y="51" width="1" height="1" fill-opacity="0.33"/><rect y="52" width="1" height="1" fill-opacity="0.3"/><rect y="53" width="1" height="1" fill-opacity="0.3"/><rect y="54" width="1" height="1" fill-opacity="0.6"/><rect y="55" width="1" height="1" fill-opacity="0.59"/><rect y="56" width="1" height="1" fill-opacity="0.28"/><rect y="57" width="1" height="1" fill-opacity="0.28"/><rect y="58" width="1" height="1" fill-opacity="0.3"/><rect y="59" width="1" height="1" fill-opacity="0.35"/><rect y="60" width="1" height="1" fill-opacity="0.34"/><rect y="61" width="1" height="1" fill-opacity="0.14"/><rect y="62" width="1" height="1" fill-opacity="0.15"/><rect y="63" width="1" height="1" fill-opacity="0.27"/><rect y="64" width="1" height="1" fill-opacity="0.27"/><rect y="65" width="1" height="1" fill-opacity="0.14"/><rect y="66" width="1" height="1" fill-opacity="0"/><rect y="67" width="1" height="1" fill-opacity="0.08"/><rect y="68" width="1" height="1" fill-opacity="0"/><rect y="69" width="1" height="1" fill-opacity="0"/><rect y="70" width="1" height="1" fill-opacity="0.02"/><rect y="71" width="1" height="1" fill-opacity="0.13"/><rect y="72" width="1" height="1" fill-opacity="0.61"/><rect y="73" width="1" height="1" fill-opacity="0.45"/><rect y="74" width="1" height="1" fill-opacity="0.45"/><rect y="75" width="1" height="1" fill-opacity="0.22"/><rect y="76" width="1" height="1" fill-opacity="0.42"/><rect y="77" width="1" height="1" fill-opacity="0.06"/><rect y="78" width="1" height="1" fill-opacity="0.23"/><rect y="79" width="1" height="1" fill-opacity="0.16"/><rect y="80" width="1" height="1" fill-opacity="0.52"/><rect y="81" width="1" height="1" fill-opacity="0.02"/><rect y="82" width="1" height="1" fill-opacity="0.16"/><rect y="83" width="1" height="1" fill-opacity="0.03"/><rect y="84" width="1" height="1" fill-opacity="0.23"/><rect y="85" width="1" height="1" fill-opacity="0.23"/><rect y="86" width="1" height="1" fill-opacity="0.54"/><rect y="87" width="1" height="1" fill-opacity="0.18"/><rect y="88" width="1" height="1" fill-opacity="0.18"/><rect y="89" width="1" height="1" fill-opacity="0.57"/><rect y="90" width="1" height="1" fill-opacity="0.21"/><rect y="91" width="1" height="1" fill-opacity="0.63"/><rect y="92" width="1" height="1" fill-opacity="0.26"/><rect y="93" width="1" height="1" fill-opacity="0.16"/><rect y="94" width="1" height="1" fill-opacity="0.12"/><rect y="95" width="1" height="1" fill-opacity="0.12"/><rect y="96" width="1" height="1" fill-opacity="0.04"/><rect y="97" width="1" height="1" fill-opacity="0.24"/><rect y="98" width="1" height="1" fill-opacity="0.3"/><rect y="99" width="1" height="1" fill-opacity="0.15"/><rect y="100" width="1" height="1" fill-opacity="0.42"/><rect y="101" width="1" height="1" fill-opacity="0.18"/><rect y="102" width="1" height="1" fill-opacity="0.14"/><rect y="103" width="1" height="1" fill-opacity="0.5"/><rect y="104" width="1" height="1" fill-opacity="0.15"/><rect y="105" width="1" height="1" fill-opacity="0.16"/><rect y="106" width="1" height="1" fill-opacity="0.16"/><rect y="107" width="1" height="1" fill-opacity="0.14"/><rect y="108" width="1" height="1" fill-opacity="0.21"/><rect y="109" width="1" height="1" fill-opacity="0.4"/><rect y="110" width="1" height="1" fill-opacity="0.55"/><rect y="111" width="1" height="1" fill-opacity="0.14"/><rect y="112" width="1" height="1" fill-opacity="0.19"/><rect y="113" width="1" height="1" fill-opacity="0.16"/><rect y="114" width="1" height="1" fill-opacity="0.36"/><rect y="115" width="1" height="1" fill-opacity="0.1"/><rect y="116" width="1" height="1" fill-opacity="0.1"/><rect y="117" width="1" height="1" fill-opacity="0.15"/><rect y="118" width="1" height="1" fill-opacity="0.3"/><rect y="119" width="1" height="1" fill-opacity="0.22"/><rect y="120" width="1" height="1" fill-opacity="0.57"/><rect y="121" width="1" height="1" fill-opacity="0.22"/><rect y="122" width="1" height="1" fill-opacity="0"/><rect y="123" width="1" height="1" fill-opacity="0.15"/><rect y="124" width="1" height="1" fill-opacity="0.04"/><rect y="125" width="1" height="1" fill-opacity="0.07"/><rect y="126" width="1" height="1" fill-opacity="0.27"/><rect y="127" width="1" height="1" fill-opacity="0.27"/><rect y="128" width="1" height="1" fill-opacity="0.57"/><rect y="129" width="1" height="1" fill-opacity="0.2"/><rect y="130" width="1" height="1" fill-opacity="0.31"/><rect y="131" width="1" height="1" fill-opacity="0.57"/><rect y="132" width="1" height="1" fill-opacity="0.08"/><rect y="133" width="1" height="1" fill-opacity="0.22"/><rect y="134" width="1" height="1" fill-opacity="0.16"/><rect y="135" width="1" height="1" fill-opacity="0.28"/><rect y="136" width="1" height="1" fill-opacity="0.25"/></g>
<g id="vq1"><rect x="0" width="1" height="1" fill="#7b7b7b"/><rect x="1" width="1" height="1" fill="#3d3d3d"/><rect x="2" width="1" height="1" fill="#575757"/><rect x="3" width="1" height="1" fill="#505050"/><rect x="4" width="1" height="1" fill="#626262"/><rect x="5" width="1" height="1" fill="#666666"/><rect x="6" width="1" height="1" fill="#5b5b5b"/><rect x="7" width="1" height="1" fill="#3d3d3d"/><rect x="8" width="1" height="1" fill="#272727"/><rect x="9" width="1" height="1" fill="#4a4a4a"/><rect x="10" width="1" height="1" fill="#161616"/><rect x="11" width="1" height="1" fill="#5a5a5a"/><rect x="12" width="1" height="1" fill="#bfbfbf"/><rect x="13" width="1" height="1" fill="#c2c2c2"/><rect x="14" width="1" height="1" fill="#aaaaaa"/><rect x="15" width="1" height="1" fill="#4b4b4b"/><rect x="16" width="1" height="1" fill="#909090"/><rect x="17" width="1" height="1" fill="#5d5d5d"/><rect x="18" width="1" height="1" fill="#3c3c3c"/><rect x="19" width="1" height="1" fill="#151515"/><rect x="20" width="1" height="1" fill="#383838"/><rect x="21" width="1" height="1" fill="#333333"/><rect x="22" width="1" height="1" fill="#a1a1a1"/><rect x="23" width="1" height="1" fill="#676767"/><rect x="24" width="1" height="1" fill="#656565"/><rect x="25" width="1" height="1" fill="#969696"/><rect x="26" width="1" height="1" fill="#777777"/><rect x="27" width="1" height="1" fill="#aeaeae"/><rect x="28" width="1" height="1" fill="#787878"/><rect x="29" width="1" height="1" fill="#939393"/><rect x="30" width="1" height="1" fill="#363636"/><rect x="31" width="1" height="1" fill="#dfdfdf"/><rect x="32" width="1" height="1" fill="#929292"/><rect x="33" width="1" height="1" fill="#767676"/><rect x="34" width="1" height="1" fill="#313131"/><rect x="35" width="1" height="1" fill="#858585"/><rect x="36" width="1" height="1" fill="#afafaf"/><rect x="37" width="1" height="1" fill="#656565"/><rect x="38" width="1" height="1" fill="#cccccc"/><rect x="39" width="1" height="1" fill="#5a5a5a"/><rect x="40" width="1" height="1" fill="#7a7a7a"/><rect x="41" width="1" height="1" fill="#515151"/><rect x="42" width="1" height="1" fill="#a1a1a1"/><rect x="43" width="1" height="1" fill="#939393"/><rect x="44" width="1" height="1" fill="#7b7b7b"/><rect x="45" width="1" height="1" fill="#3f3f3f"/><rect x="46" width="1" height="1" fill="#a1a1a1"/><rect x="47" width="1" height="1" fill="#8d8d8d"/><rect x="48" width="1" height="1" fill="#bcbcbc"/><rect x="49" width="1" height="1" fill="#e1e1e1"/><rect x="50" width="1" height="1" fill="#5d5d5d"/><rect x="51" width="1" height="1" fill="#7b7b7b"/><rect x="52" width="1" height="1" fill="#7a7a7a"/><rect x="53" width="1" height="1" fill="#7b7b7b"/><rect x="54" width="1" height="1" fill="#6e6e6e"/><rect x="55" width="1" height="1" fill="#686868"/><rect x="56" width="1" height="1" fill="#3c3c3c"/><rect x="57" width="1" height="1" fill="#7a7a7a"/><rect x="58" width="1" height="1" fill="#707070"/><rect x="59" width="1" height="1" fill="#1d1d1d"/><rect x="60" width="1" height="1" fill="#363636"/><rect x="61" width="1" height="1" fill="#393939"/><rect x="62" width="1" height="1" fill="#333333"/><rect x="63" width="1" height="1" fill="#404040"/><rect x="64" width="1" height="1" fill="#676767"/><rect x="65" width="1" height="1" fill="#b9b9b9"/><rect x="66" width="1" height="1" fill="#999999"/><rect x="67" width="1" height="1" fill="#5f5f5f"/><rect x="68" width="1" height="1" fill="#828282"/><rect x="69" width="1" height="1" fill="#5a5a5a"/><rect x="70" width="1" height="1" fill="#7e7e7e"/><rect x="71" width="1" height="1" fill="#6a6a6a"/><rect x="72" width="1" height="1" fill="#9a9a9a"/><rect x="73" width="1" height="1" fill="#4b4b4b"/><rect x="74" width="1" height="1" fill="#6b6b6b"/><rect x="75" width="1" height="1" fill="#383838"/><rect x="76" width="1" height="1" fill="#7d7d7d"/><rect x="77" width="1" height="1" fill="#b9b9b9"/><rect x="78" width="1" height="1" fill="#515151"/><rect x="79" width="1" height="1" fill="#484848"/><rect x="80" width="1" height="1" fill="#b4b4b4"/><rect x="81" width="1" height="1" fill="#4b4b4b"/><rect x="82" width="1" height="1" fill="#cacaca"/><rect x="83" width="1" height="1" fill="#848484"/><rect x="84" width="1" height="1" fill="#676767"/><rect x="85" width="1" height="1" fill="#656565"/><rect x="86" width="1" height="1" fill="#4b4b4b"/><rect x="87" width="1" height="1" fill="#616161"/><rect x="88" width="1" height="1" fill="#838383"/><rect x="89" width="1" height="1" fill="#555555"/><rect x="90" width="1" height="1" fill="#b0b0b0"/><rect x="91" width="1" height="1" fill="#626262"/><rect x="92" width="1" height="1" fill="#474747"/><rect x="93" width="1" height="1" fill="#bcbcbc"/><rect x="94" width="1" height="1" fill="#757575"/><rect x="95" width="1" height="1" fill="#4a4a4a"/><rect x="96" width="1" height="1" fill="#6f6f6f"/><rect x="97" width="1" height="1" fill="#494949"/><rect x="98" width="1" height="1" fill="#8a8a8a"/><rect x="99" width="1" height="1" fill="#aeaeae"/><rect x="100" width="1" height="1" fill="#656565"/><rect x="101" width="1" height="1" fill="#7e7e7e"/><rect x="102" width="1" height="1" fill="#6a6a6a"/><rect x="103" width="1" height="1" fill="#848484"/><rect x="104" width="1" height="1" fill="#636363"/><rect x="105" width="1" height="1" fill="#4f4f4f"/><rect x="106" width="1" height="1" fill="#6f6f6f"/><rect x="107" width="1" height="1" fill="#858585"/><rect x="108" width="1" height="1" fill="#cccccc"/><rect x="109" width="1" height="1" fill="#777777"/><rect x="110" width="1" height="1" fill="#3d3d3d"/><rect x="111" width="1" height="1" fill="#777777"/><rect x="112" width="1" height="1" fill="#3c3c3c"/><rect x="113" width="1" height="1" fill="#5a5a5a"/><rect x="114" width="1" height="1" fill="#848484"/><rect x="115" width="1" height="1" fill="#dbdbdb"/><rect x="116" width="1" height="1" fill="#626262"/><rect x="117" width="1" height="1" fill="#8f8f8f"/><rect x="118" width="1" height="1" fill="#c8c8c8"/><rect x="119" width="1" height="1" fill="#3b3b3b"/><rect x="120" width="1" height="1" fill="#5a5a5a"/><rect x="121" width="1" height="1" fill="#636363"/><rect x="122" width="1" height="1" fill="#606060"/><rect x="123" width="1" height="1" fill="#8b8b8b"/></g>
<g id="hq1" fill="#000"><rect y="0" width="1" height="1" fill-opacity="0.52"/><rect y="1" width="1" height="1" fill-opacity="0.52"/><rect y="2" width="1" height="1" fill-opacity="0.76"/><rect y="3" width="1" height="1" fill-opacity="0.66"/><rect y="4" width="1" height="1" fill-opacity="0.68"/><rect y="5" width="1" height="1" fill-opacity="0.61"/><rect y="6" width="1" height="1" fill-opacity="0.6"/><rect y="7" width="1" height="1" fill-opacity="0.64"/><rect y="8" width="1" height="1" fill-opacity="0.76"/><rect y="9" width="1" height="1" fill-opacity="0.84"/><rect y="10" width="1" height="1" fill-opacity="0.71"/><rect y="11" width="1" height="1" fill-opacity="0.71"/><rect y="12" width="1" height="1" fill-opacity="0.91"/><rect y="13" width="1" height="1" fill-opacity="0.65"/><rect y="14" width="1" height="1" fill-opacity="0.25"/><rect y="15" width="1" height="1" fill-opacity="0.24"/><rect y="16" width="1" height="1" fill-opacity="0.33"/><rect y="17" width="1" height="1" fill-opacity="0.71"/><rect y="18" width="1" height="1" fill-opacity="0.43"/><rect y="19" width="1" height="1" fill-opacity="0.64"/><rect y="20" width="1" height="1" fill-opacity="0.76"/><rect y="21" width="1" height="1" fill-opacity="0.91"/><rect y="22" width="1" height="1" fill-opacity="0.91"/><rect y="23" width="1" height="1" fill-opacity="0.78"/><rect y="24" width="1" height="1" fill-opacity="0.8"/><rect y="25" width="1" height="1" fill-opacity="0.37"/><rect y="26" width="1" height="1" fill-opacity="0.59"/><rect y="27" width="1" height="1" fill-opacity="0.6"/><rect y="28" width="1" height="1" fill-opacity="0.41"/><rect y="29" width="1" height="1" fill-opacity="0.53"/><rect y="30" width="1" height="1" fill-opacity="0.32"/><rect y="31" width="1" height="1" fill-opacity="0.53"/><rect y="32" width="1" height="1" fill-opacity="0.53"/><rect y="33" width="1" height="1" fill-opacity="0.42"/><rect y="34" width="1" height="1" fill-opacity="0.79"/><rect y="35" width="1" height="1" fill-opacity="0.12"/><rect y="36" width="1" height="1" fill-opacity="0.42"/><rect y="37" width="1" height="1" fill-opacity="0.54"/><rect y="38" width="1" height="1" fill-opacity="0.81"/><rect y="39" width="1" height="1" fill-opacity="0.48"/><rect y="40" width="1" height="1" fill-opacity="0.31"/><rect y="41" width="1" height="1" fill-opacity="0.6"/><rect y="42" width="1" height="1" fill-opacity="0.2"/><rect y="43" width="1" height="1" fill-opacity="0.2"/><rect y="44" width="1" height="1" fill-opacity="0.64"/><rect y="45" width="1" height="1" fill-opacity="0.52"/><rect y="46" width="1" height="1" fill-opacity="0.68"/><rect y="47" width="1" height="1" fill-opacity="0.37"/><rect y="48" width="1" height="1" fill-opacity="0.42"/><rect y="49" width="1" height="1" fill-opacity="0.51"/><rect y="50" width="1" height="1" fill-opacity="0.75"/><rect y="51" width="1" height="1" fill-opacity="0.37"/><rect y="52" width="1" height="1" fill-opacity="0.45"/><rect y="53" width="1" height="1" fill-opacity="0.45"/><rect y="54" width="1" height="1" fill-opacity="0.26"/><rect y="55" width="1" height="1" fill-opacity="0.12"/><rect y="56" width="1" height="1" fill-opacity="0.63"/><rect y="57" width="1" height="1" fill-opacity="0.52"/><rect y="58" width="1" height="1" fill-opacity="0.52"/><rect y="59" width="1" height="1" fill-opacity="0.52"/><rect y="60" width="1" height="1" fill-opacity="0.57"/><rect y="61" width="1" height="1" fill-opacity="0.59"/><rect y="62" width="1" height="1" fill-opacity="0.76"/><rect y="63" width="1" height="1" fill-opacity="0.52"/><rect y="64" width="1" height="1" fill-opacity="0.52"/><rect y="65" width="1" height="1" fill-opacity="0.56"/><rect y="66" width="1" height="1" fill-opacity="0.89"/><rect y="67" width="1" height="1" fill-opacity="0.79"/><rect y="68" width="1" height="1" fill-opacity="0.77"/><rect y="69" width="1" height="1" fill-opacity="0.8"/><rect y="70" width="1" height="1" fill-opacity="0.75"/><rect y="71" width="1" height="1" fill-opacity="0.59"/><rect y="72" width="1" height="1" fill-opacity="0.27"/><rect y="73" width="1" height="1" fill-opacity="0.4"/><rect y="74" width="1" height="1" fill-opacity="0.4"/><rect y="75" width="1" height="1" fill-opacity="0.63"/><rect y="76" width="1" height="1" fill-opacity="0.49"/><rect y="77" width="1" height="1" fill-opacity="0.64"/><rect y="78" width="1" height="1" fill-opacity="0.5"/><rect y="79" width="1" height="1" fill-opacity="0.58"/><rect y="80" width="1" height="1" fill-opacity="0.39"/><rect y="81" width="1" height="1" fill-opacity="0.7"/><rect y="82" width="1" height="1" fill-opacity="0.58"/><rect y="83" width="1" height="1" fill-opacity="0.78"/><rect y="84" width="1" height="1" fill-opacity="0.51"/><rect y="85" width="1" height="1" fill-opacity="0.51"/><rect y="86" width="1" height="1" fill-opacity="0.27"/><rect y="87" width="1" height="1" fill-opacity="0.68"/><rect y="88" width="1" height="1" fill-opacity="0.71"/><rect y="89" width="1" height="1" fill-opacity="0.29"/><rect y="90" width="1" height="1" fill-opacity="0.7"/><rect y="91" width="1" height="1" fill-opacity="0.21"/><rect y="92" width="1" height="1" fill-opacity="0.48"/><rect y="93" width="1" height="1" fill-opacity="0.6"/><rect y="94" width="1" height="1" fill-opacity="0.6"/><rect y="95" width="1" height="1" fill-opacity="0.6"/><rect y="96" width="1" height="1" fill-opacity="0.7"/><rect y="97" width="1" height="1" fill-opacity="0.62"/><rect y="98" width="1" height="1" fill-opacity="0.48"/><rect y="99" width="1" height="1" fill-opacity="0.66"/><rect y="100" width="1" height="1" fill-opacity="0.31"/><rect y="101" width="1" height="1" fill-opacity="0.61"/><rect y="102" width="1" height="1" fill-opacity="0.72"/><rect y="103" width="1" height="1" fill-opacity="0.26"/><rect y="104" width="1" height="1" fill-opacity="0.54"/><rect y="105" width="1" height="1" fill-opacity="0.71"/><rect y="106" width="1" height="1" fill-opacity="0.71"/><rect y="107" width="1" height="1" fill-opacity="0.56"/><rect y="108" width="1" height="1" fill-opacity="0.71"/><rect y="109" width="1" height="1" fill-opacity="0.46"/><rect y="110" width="1" height="1" fill-opacity="0.32"/><rect y="111" width="1" height="1" fill-opacity="0.6"/><rect y="112" width="1" height="1" fill-opacity="0.5"/><rect y="113" width="1" height="1" fill-opacity="0.58"/><rect y="114" width="1" height="1" fill-opacity="0.48"/><rect y="115" width="1" height="1" fill-opacity="0.61"/><rect y="116" width="1" height="1" fill-opacity="0.61"/><rect y="117" width="1" height="1" fill-opacity="0.69"/><rect y="118" width="1" height="1" fill-opacity="0.56"/><rect y="119" width="1" height="1" fill-opacity="0.48"/><rect y="120" width="1" height="1" fill-opacity="0.2"/><rect y="121" width="1" height="1" fill-opacity="0.53"/><rect y="122" width="1" height="1" fill-opacity="0.76"/><rect y="123" width="1" height="1" fill-opacity="0.53"/><rect y="124" width="1" height="1" fill-opacity="0.76"/><rect y="125" width="1" height="1" fill-opacity="0.65"/><rect y="126" width="1" height="1" fill-opacity="0.48"/><rect y="127" width="1" height="1" fill-opacity="0.48"/><rect y="128" width="1" height="1" fill-opacity="0.14"/><rect y="129" width="1" height="1" fill-opacity="0.61"/><rect y="130" width="1" height="1" fill-opacity="0.44"/><rect y="131" width="1" height="1" fill-opacity="0.21"/><rect y="132" width="1" height="1" fill-opacity="0.77"/><rect y="133" width="1" height="1" fill-opacity="0.65"/><rect y="134" width="1" height="1" fill-opacity="0.61"/><rect y="135" width="1" height="1" fill-opacity="0.62"/><rect y="136" width="1" height="1" fill-opacity="0.45"/></g>
<g id="vc2"><rect x="0" width="1" height="1" fill="#565656"/><rect x="1" width="1" height="1" fill="#f9f9f9"/><rect x="2" width="1" height="1" fill="#adadad"/><rect x="3" width="1" height="1" fill="#7b7b7b"/><rect x="4" width="1" height="1" fill="#d9d9d9"/><rect x="5" width="1" height="1" fill="#5b5b5b"/><rect x="6" width="1" height="1" fill="#a8a8a8"/><rect x="7" width="1" height="1" fill="#d8d8d8"/><rect x="8" width="1" height="1" fill="#f2f2f2"/><rect x="9" width="1" height="1" fill="#ffffff"/><rect x="10" width="1" height="1" fill="#9c9c9c"/><rect x="11" width="1" height="1" fill="#585858"/><rect x="12" width="1" height="1" fill="#bdbdbd"/><rect x="13" width="1" height="1" fill="#4d4d4d"/><rect x="14" width="1" height="1" fill="#fafafa"/><rect x="15" width="1" height="1" fill="#6c6c6c"/><rect x="16" width="1" height="1" fill="#9f9f9f"/><rect x="17" width="1" height="1" fill="#e4e4e4"/><rect x="18" width="1" height="1" fill="#b1b1b1"/><rect x="19" width="1" height="1" fill="#bcbcbc"/><rect x="20" width="1" height="1" fill="#d3d3d3"/><rect x="21" width="1" height="1" fill="#c0c0c0"/><rect x="22" width="1" height="1" fill="#949494"/><rect x="23" width="1" height="1" fill="#727272"/><rect x="24" width="1" height="1" fill="#ffffff"/><rect x="25" width="1" height="1" fill="#b1b1b1"/><rect x="26" width="1" height="1" fill="#a9a9a9"/><rect x="27" width="1" height="1" fill="#ffffff"/><rect x="28" width="1" height="1" fill="#f4f4f4"/><rect x="29" width="1" height="1" fill="#ffffff"/><rect x="30" width="1" height="1" fill="#d4d4d4"/><rect x="31" width="1" height="1" fill="#979797"/><rect x="32" width="1" height="1" fill="#c4c4c4"/><rect x="33" width="1" height="1" fill="#d8d8d8"/><rect x="34" width="1" height="1" fill="#919191"/><rect x="35" width="1" height="1" fill="#979797"/><rect x="36" width="1" height="1" fill="#acacac"/><rect x="37" width="1" height="1" fill="#d3d3d3"/><rect x="38" width="1" height="1" fill="#9c9c9c"/><rect x="39" width="1" height="1" fill="#9e9e9e"/><rect x="40" width="1" height="1" fill="#a5a5a5"/><rect x="41" width="1" height="1" fill="#3f3f3f"/><rect x="42" width="1" height="1" fill="#d7d7d7"/><rect x="43" width="1" height="1" fill="#919191"/><rect x="44" width="1" height="1" fill="#e1e1e1"/><rect x="45" width="1" height="1" fill="#8b8b8b"/><rect x="46" width="1" height="1" fill="#393939"/><rect x="47" width="1" height="1" fill="#8a8a8a"/><rect x="48" width="1" height="1" fill="#9f9f9f"/><rect x="49" width="1" height="1" fill="#e6e6e6"/><rect x="50" width="1" height="1" fill="#b5b5b5"/><rect x="51" width="1" height="1" fill="#c5c5c5"/><rect x="52" width="1" height="1" fill="#b2b2b2"/><rect x="53" width="1" height="1" fill="#484848"/><rect x="54" width="1" height="1" fill="#9d9d9d"/><rect x="55" width="1" height="1" fill="#d9d9d9"/><rect x="56" width="1" height="1" fill="#a9a9a9"/><rect x="57" width="1" height="1" fill="#acacac"/><rect x="58" width="1" height="1" fill="#c3c3c3"/><rect x="59" width="1" height="1" fill="#f1f1f1"/><rect x="60" width="1" height="1" fill="#909090"/><rect x="61" width="1" height="1" fill="#696969"/><rect x="62" width="1" height="1" fill="#c3c3c3"/><rect x="63" width="1" height="1" fill="#8c8c8c"/><rect x="64" width="1" height="1" fill="#f6f6f6"/><rect x="65" width="1" height="1" fill="#efefef"/><rect x="66" width="1" height="1" fill="#aaaaaa"/><rect x="67" width="1" height="1" fill="#3e3e3e"/><rect x="68" width="1" height="1" fill="#e0e0e0"/><rect x="69" width="1" height="1" fill="#e8e8e8"/><rect x="70" width="1" height="1" fill="#f0f0f0"/><rect x="71" width="1" height="1" fill="#d9d9d9"/><rect x="72" width="1" height="1" fill="#6e6e6e"/></g>
<g id="hr2" fill="#000"><rect y="0" width="1" height="1" fill-opacity="0.66"/><rect y="1" width="1" height="1" fill-opacity="0.66"/><rect y="2" width="1" height="1" fill-opacity="0.02"/><rect y="3" width="1" height="1" fill-opacity="0.32"/><rect y="4" width="1" height="1" fill-opacity="0.52"/><rect y="5" width="1" height="1" fill-opacity="0.15"/><rect y="6" width="1" height="1" fill-opacity="0.64"/><rect y="7" width="1" height="1" fill-opacity="0.34"/><rect y="8" width="1" height="1" fill-opacity="0.15"/><rect y="9" width="1" height="1" fill-opacity="0.05"/><rect y="10" width="1" height="1" fill-opacity="0"/><rect y="11" width="1" height="1" fill-opacity="0.39"/><rect y="12" width="1" height="1" fill-opacity="0.65"/><rect y="13" width="1" height="1" fill-opacity="0.26"/><rect y="14" width="1" height="1" fill-opacity="0.26"/><rect y="15" width="1" height="1" fill-opacity="0.7"/><rect y="16" width="1" height="1" fill-opacity="0.02"/><rect y="17" width="1" height="1" fill-opacity="0.57"/><rect y="18" width="1" height="1" fill-opacity="0.37"/><rect y="19" width="1" height="1" fill-opacity="0.1"/><rect y="20" width="1" height="1" fill-opacity="0.3"/><rect y="21" width="1" height="1" fill-opacity="0.26"/><rect y="22" width="1" height="1" fill-opacity="0.17"/><rect y="23" width="1" height="1" fill-opacity="0.24"/><rect y="24" width="1" height="1" fill-opacity="0.42"/><rect y="25" width="1" height="1" fill-opacity="0.55"/><rect y="26" width="1" height="1" fill-opacity="0"/><rect y="27" width="1" height="1" fill-opacity="0"/><rect y="28" width="1" height="1" fill-opacity="0.3"/><rect y="29" width="1" height="1" fill-opacity="0.34"/><rect y="30" width="1" height="1" fill-opacity="0"/><rect y="31" width="1" height="1" fill-opacity="0.04"/><rect y="32" width="1" height="1" fill-opacity="0"/><rect y="33" width="1" height="1" fill-opacity="0.17"/><rect y="34" width="1" height="1" fill-opacity="0.41"/><rect y="35" width="1" height="1" fill-opacity="0.23"/><rect y="36" width="1" height="1" fill-opacity="0.15"/><rect y="37" width="1" height="1" fill-opacity="0.43"/><rect y="38" width="1" height="1" fill-opacity="0.41"/><rect y="39" width="1" height="1" fill-opacity="0.33"/><rect y="40" width="1" height="1" fill-opacity="0.33"/><rect y="41" width="1" height="1" fill-opacity="0.17"/><rect y="42" width="1" height="1" fill-opacity="0.39"/><rect y="43" width="1" height="1" fill-opacity="0.38"/><rect y="44" width="1" height="1" fill-opacity="0.35"/><rect y="45" width="1" height="1" fill-opacity="0.75"/><rect y="46" width="1" height="1" fill-opacity="0.16"/><rect y="47" width="1" height="1" fill-opacity="0.43"/><rect y="48" width="1" height="1" fill-opacity="0.12"/><rect y="49" width="1" height="1" fill-opacity="0.45"/><rect y="50" width="1" height="1" fill-opacity="0.77"/><rect y="51" width="1" height="1" fill-opacity="0.46"/><rect y="52" width="1" height="1" fill-opacity="0.38"/><rect y="53" width="1" height="1" fill-opacity="0.38"/><rect y="54" width="1" height="1" fill-opacity="0.1"/><rect y="55" width="1" height="1" fill-opacity="0.29"/><rect y="56" width="1" height="1" fill-opacity="0.23"/><rect y="57" width="1" height="1" fill-opacity="0.3"/><rect y="58" width="1" height="1" fill-opacity="0.72"/><rect y="59" width="1" height="1" fill-opacity="0.38"/><rect y="60" width="1" height="1" fill-opacity="0.15"/><rect y="61" width="1" height="1" fill-opacity="0.34"/><rect y="62" width="1" height="1" fill-opacity="0.32"/><rect y="63" width="1" height="1" fill-opacity="0.23"/><rect y="64" width="1" height="1" fill-opacity="0.05"/><rect y="65" width="1" height="1" fill-opacity="0.43"/><rect y="66" width="1" height="1" fill-opacity="0.43"/><rect y="67" width="1" height="1" fill-opacity="0.59"/><rect y="68" width="1" height="1" fill-opacity="0.23"/><rect y="69" width="1" height="1" fill-opacity="0.45"/><rect y="70" width="1" height="1" fill-opacity="0.03"/><rect y="71" width="1" height="1" fill-opacity="0.06"/><rect y="72" width="1" height="1" fill-opacity="0.33"/><rect y="73" width="1" height="1" fill-opacity="0.75"/><rect y="74" width="1" height="1" fill-opacity="0.12"/><rect y="75" width="1" height="1" fill-opacity="0.09"/><rect y="76" width="1" height="1" fill-opacity="0.06"/><rect y="77" width="1" height="1" fill-opacity="0.15"/><rect y="78" width="1" height="1" fill-opacity="0.57"/></g>
<g id="vq2"><rect x="0" width="1" height="1" fill="#c6c6c6"/><rect x="1" width="1" height="1" fill="#1b1b1b"/><rect x="2" width="1" height="1" fill="#6c6c6c"/><rect x="3" width="1" height="1" fill="#d0d0d0"/><rect x="4" width="1" height="1" fill="#4e4e4e"/><rect x="5" width="1" height="1" fill="#c0c0c0"/><rect x="6" width="1" height="1" fill="#6d6d6d"/><rect x="7" width="1" height="1" fill="#3d3d3d"/><rect x="8" width="1" height="1" fill="#4b4b4b"/><rect x="9" width="1" height="1" fill="#3b3b3b"/><rect x="10" width="1" height="1" fill="#a1a1a1"/><rect x="11" width="1" height="1" fill="#e7e7e7"/><rect x="12" width="1" height="1" fill="#5a5a5a"/><rect x="13" width="1" height="1" fill="#eaeaea"/><rect x="14" width="1" height="1" fill="#2e2e2e"/><rect x="15" width="1" height="1" fill="#d9d9d9"/><rect x="16" width="1" height="1" fill="#a5a5a5"/><rect x="17" width="1" height="1" fill="#656565"/><rect x="18" width="1" height="1" fill="#666666"/><rect x="19" width="1" height="1" fill="#8b8b8b"/><rect x="20" width="1" height="1" fill="#787878"/><rect x="21" width="1" height="1" fill="#8c8c8c"/><rect x="22" width="1" height="1" fill="#858585"/><rect x="23" width="1" height="1" fill="#adadad"/><rect x="24" width="1" height="1" fill="#1b1b1b"/><rect x="25" width="1" height="1" fill="#646464"/><rect x="26" width="1" height="1" fill="#9e9e9e"/><rect x="27" width="1" height="1" fill="#464646"/><rect x="28" width="1" height="1" fill="#454545"/><rect x="29" width="1" height="1" fill="#464646"/><rect x="30" width="1" height="1" fill="#656565"/><rect x="31" width="1" height="1" fill="#8d8d8d"/><rect x="32" width="1" height="1" fill="#545454"/><rect x="33" width="1" height="1" fill="#404040"/><rect x="34" width="1" height="1" fill="#b0b0b0"/><rect x="35" width="1" height="1" fill="#888888"/><rect x="36" width="1" height="1" fill="#7a7a7a"/><rect x="37" width="1" height="1" fill="#5a5a5a"/><rect x="38" width="1" height="1" fill="#777777"/><rect x="39" width="1" height="1" fill="#848484"/><rect x="40" width="1" height="1" fill="#7e7e7e"/><rect x="41" width="1" height="1" fill="#ffffff"/><rect x="42" width="1" height="1" fill="#525252"/><rect x="43" width="1" height="1" fill="#959595"/><rect x="44" width="1" height="1" fill="#6c6c6c"/><rect x="45" width="1" height="1" fill="#a6a6a6"/><rect x="46" width="1" height="1" fill="#ffffff"/><rect x="47" width="1" height="1" fill="#aeaeae"/><rect x="48" width="1" height="1" fill="#767676"/><rect x="49" width="1" height="1" fill="#454545"/><rect x="50" width="1" height="1" fill="#787878"/><rect x="51" width="1" height="1" fill="#7d7d7d"/><rect x="52" width="1" height="1" fill="#757575"/><rect x="53" width="1" height="1" fill="#f6f6f6"/><rect x="54" width="1" height="1" fill="#969696"/><rect x="55" width="1" height="1" fill="#474747"/><rect x="56" width="1" height="1" fill="#9e9e9e"/><rect x="57" width="1" height="1" fill="#6c6c6c"/><rect x="58" width="1" height="1" fill="#818181"/><rect x="59" width="1" height="1" fill="#2c2c2c"/><rect x="60" width="1" height="1" fill="#828282"/><rect x="61" width="1" height="1" fill="#b6b6b6"/><rect x="62" width="1" height="1" fill="#7e7e7e"/><rect x="63" width="1" height="1" fill="#c2c2c2"/><rect x="64" width="1" height="1" fill="#1c1c1c"/><rect x="65" width="1" height="1" fill="#424242"/><rect x="66" width="1" height="1" fill="#878787"/><rect x="67" width="1" height="1" fill="#ffffff"/><rect x="68" width="1" height="1" fill="#3d3d3d"/><rect x="69" width="1" height="1" fill="#494949"/><rect x="70" width="1" height="1" fill="#383838"/><rect x="71" width="1" height="1" fill="#6c6c6c"/><rect x="72" width="1" height="1" fill="#b4b4b4"/></g>
<g id="hq2" fill="#000"><rect y="0" width="1" height="1" fill-opacity="0.22"/><rect y="1" width="1" height="1" fill-opacity="0.22"/><rect y="2" width="1" height="1" fill-opacity="0.89"/><rect y="3" width="1" height="1" fill-opacity="0.57"/><rect y="4" width="1" height="1" fill-opacity="0.18"/><rect y="5" width="1" height="1" fill-opacity="0.69"/><rect y="6" width="1" height="1" fill-opacity="0.24"/><rect y="7" width="1" height="1" fill-opacity="0.57"/><rect y="8" width="1" height="1" fill-opacity="0.76"/><rect y="9" width="1" height="1" fill-opacity="0.7"/><rect y="10" width="1" height="1" fill-opacity="0.77"/><rect y="11" width="1" height="1" fill-opacity="0.37"/><rect y="12" width="1" height="1" fill-opacity="0.09"/><rect y="13" width="1" height="1" fill-opacity="0.65"/><rect y="14" width="1" height="1" fill-opacity="0.65"/><rect y="15" width="1" height="1" fill-opacity="0.08"/><rect y="16" width="1" height="1" fill-opacity="0.82"/><rect y="17" width="1" height="1" fill-opacity="0.15"/><rect y="18" width="1" height="1" fill-opacity="0.35"/><rect y="19" width="1" height="1" fill-opacity="0.6"/><rect y="20" width="1" height="1" fill-opacity="0.6"/><rect y="21" width="1" height="1" fill-opacity="0.45"/><rect y="22" width="1" height="1" fill-opacity="0.53"/><rect y="23" width="1" height="1" fill-opacity="0.45"/><rect y="24" width="1" height="1" fill-opacity="0.48"/><rect y="25" width="1" height="1" fill-opacity="0.32"/><rect y="26" width="1" height="1" fill-opacity="0.89"/><rect y="27" width="1" height="1" fill-opacity="0.89"/><rect y="28" width="1" height="1" fill-opacity="0.61"/><rect y="29" width="1" height="1" fill-opacity="0.38"/><rect y="30" width="1" height="1" fill-opacity="0.73"/><rect y="31" width="1" height="1" fill-opacity="0.73"/><rect y="32" width="1" height="1" fill-opacity="0.72"/><rect y="33" width="1" height="1" fill-opacity="0.6"/><rect y="34" width="1" height="1" fill-opacity="0.44"/><rect y="35" width="1" height="1" fill-opacity="0.67"/><rect y="36" width="1" height="1" fill-opacity="0.75"/><rect y="37" width="1" height="1" fill-opacity="0.31"/><rect y="38" width="1" height="1" fill-opacity="0.46"/><rect y="39" width="1" height="1" fill-opacity="0.52"/><rect y="40" width="1" height="1" fill-opacity="0.52"/><rect y="41" width="1" height="1" fill-opacity="0.65"/><rect y="42" width="1" height="1" fill-opacity="0.53"/><rect y="43" width="1" height="1" fill-opacity="0.48"/><rect y="44" width="1" height="1" fill-opacity="0.5"/><rect y="45" width="1" height="1" fill-opacity="0"/><rect y="46" width="1" height="1" fill-opacity="0.68"/><rect y="47" width="1" height="1" fill-opacity="0.42"/><rect y="48" width="1" height="1" fill-opacity="0.57"/><rect y="49" width="1" height="1" fill-opacity="0.35"/><rect y="50" width="1" height="1" fill-opacity="0"/><rect y="51" width="1" height="1" fill-opacity="0.32"/><rect y="52" width="1" height="1" fill-opacity="0.54"/><rect y="53" width="1" height="1" fill-opacity="0.54"/><rect y="54" width="1" height="1" fill-opacity="0.73"/><rect y="55" width="1" height="1" fill-opacity="0.53"/><rect y="56" width="1" height="1" fill-opacity="0.51"/><rect y="57" width="1" height="1" fill-opacity="0.54"/><rect y="58" width="1" height="1" fill-opacity="0.03"/><rect y="59" width="1" height="1" fill-opacity="0.41"/><rect y="60" width="1" height="1" fill-opacity="0.72"/><rect y="61" width="1" height="1" fill-opacity="0.38"/><rect y="62" width="1" height="1" fill-opacity="0.58"/><rect y="63" width="1" height="1" fill-opacity="0.49"/><rect y="64" width="1" height="1" fill-opacity="0.83"/><rect y="65" width="1" height="1" fill-opacity="0.49"/><rect y="66" width="1" height="1" fill-opacity="0.49"/><rect y="67" width="1" height="1" fill-opacity="0.28"/><rect y="68" width="1" height="1" fill-opacity="0.5"/><rect y="69" width="1" height="1" fill-opacity="0.24"/><rect y="70" width="1" height="1" fill-opacity="0.89"/><rect y="71" width="1" height="1" fill-opacity="0.74"/><rect y="72" width="1" height="1" fill-opacity="0.47"/><rect y="73" width="1" height="1" fill-opacity="0"/><rect y="74" width="1" height="1" fill-opacity="0.76"/><rect y="75" width="1" height="1" fill-opacity="0.71"/><rect y="76" width="1" height="1" fill-opacity="0.78"/><rect y="77" width="1" height="1" fill-opacity="0.57"/><rect y="78" width="1" height="1" fill-opacity="0.29"/></g>
<g id="vc3"><rect x="0" width="1" height="1" fill="#c0c0c0"/><rect x="1" width="1" height="1" fill="#535353"/><rect x="2" width="1" height="1" fill="#f0f0f0"/><rect x="3" width="1" height="1" fill="#454545"/><rect x="4" width="1" height="1" fill="#e8e8e8"/><rect x="5" width="1" height="1" fill="#c1c1c1"/><rect x="6" width="1" height="1" fill="#aaaaaa"/><rect x="7" width="1" height="1" fill="#dcdcdc"/><rect x="8" width="1" height="1" fill="#f0f0f0"/><rect x="9" width="1" height="1" fill="#dbdbdb"/><rect x="10" width="1" height="1" fill="#c0c0c0"/><rect x="11" width="1" height="1" fill="#eeeeee"/><rect x="12" width="1" height="1" fill="#a1a1a1"/><rect x="13" width="1" height="1" fill="#e2e2e2"/><rect x="14" width="1" height="1" fill="#b3b3b3"/><rect x="15" width="1" height="1" fill="#f2f2f2"/><rect x="16" width="1" height="1" fill="#969696"/><rect x="17" width="1" height="1" fill="#b9b9b9"/><rect x="18" width="1" height="1" fill="#a1a1a1"/><rect x="19" width="1" height="1" fill="#d2d2d2"/><rect x="20" width="1" height="1" fill="#9f9f9f"/><rect x="21" width="1" height="1" fill="#a8a8a8"/><rect x="22" width="1" height="1" fill="#a1a1a1"/><rect x="23" width="1" height="1" fill="#d3d3d3"/><rect x="24" width="1" height="1" fill="#e7e7e7"/><rect x="25" width="1" height="1" fill="#a0a0a0"/><rect x="26" width="1" height="1" fill="#b8b8b8"/><rect x="27" width="1" height="1" fill="#eeeeee"/><rect x="28" width="1" height="1" fill="#5d5d5d"/><rect x="29" width="1" height="1" fill="#f4f4f4"/><rect x="30" width="1" height="1" fill="#434343"/><rect x="31" width="1" height="1" fill="#5d5d5d"/><rect x="32" width="1" height="1" fill="#ededed"/><rect x="33" width="1" height="1" fill="#f8f8f8"/><rect x="34" width="1" height="1" fill="#b5b5b5"/><rect x="35" width="1" height="1" fill="#878787"/><rect x="36" width="1" height="1" fill="#959595"/><rect x="37" width="1" height="1" fill="#b5b5b5"/><rect x="38" width="1" height="1" fill="#b0b0b0"/><rect x="39" width="1" height="1" fill="#3f3f3f"/><rect x="40" width="1" height="1" fill="#b0b0b0"/><rect x="41" width="1" height="1" fill="#9b9b9b"/><rect x="42" width="1" height="1" fill="#a3a3a3"/><rect x="43" width="1" height="1" fill="#e0e0e0"/><rect x="44" width="1" height="1" fill="#bdbdbd"/><rect x="45" width="1" height="1" fill="#636363"/><rect x="46" width="1" height="1" fill="#f4f4f4"/><rect x="47" width="1" height="1" fill="#5b5b5b"/><rect x="48" width="1" height="1" fill="#a0a0a0"/><rect x="49" width="1" height="1" fill="#f7f7f7"/><rect x="50" width="1" height="1" fill="#a7a7a7"/><rect x="51" width="1" height="1" fill="#444444"/><rect x="52" width="1" height="1" fill="#c4c4c4"/><rect x="53" width="1" height="1" fill="#ffffff"/><rect x="54" width="1" height="1" fill="#c9c9c9"/><rect x="55" width="1" height="1" fill="#f0f0f0"/><rect x="56" width="1" height="1" fill="#fbfbfb"/><rect x="57" width="1" height="1" fill="#c8c8c8"/><rect x="58" width="1" height="1" fill="#797979"/><rect x="59" width="1" height="1" fill="#ebebeb"/><rect x="60" width="1" height="1" fill="#a6a6a6"/><rect x="61" width="1" height="1" fill="#d4d4d4"/><rect x="62" width="1" height="1" fill="#ffffff"/><rect x="63" width="1" height="1" fill="#b6b6b6"/><rect x="64" width="1" height="1" fill="#cdcdcd"/><rect x="65" width="1" height="1" fill="#ababab"/></g>
<g id="hr3" fill="#000"><rect y="0" width="1" height="1" fill-opacity="0.24"/><rect y="1" width="1" height="1" fill-opacity="0.24"/><rect y="2" width="1" height="1" fill-opacity="0.67"/><rect y="3" width="1" height="1" fill-opacity="0.06"/><rect y="4" width="1" height="1" fill-opacity="0.73"/><rect y="5" width="1" height="1" fill-opacity="0.09"/><rect y="6" width="1" height="1" fill-opacity="0.24"/><rect y="7" width="1" height="1" fill-opacity="0.33"/><rect y="8" width="1" height="1" fill-opacity="0.13"/><rect y="9" width="1" height="1" fill-opacity="0.06"/><rect y="10" width="1" height="1" fill-opacity="0.14"/><rect y="11" width="1" height="1" fill-opacity="0.14"/><rect y="12" width="1" height="1" fill-opacity="0.25"/><rect y="13" width="1" height="1" fill-opacity="0.06"/><rect y="14" width="1" height="1" fill-opacity="0.36"/><rect y="15" width="1" height="1" fill-opacity="0.11"/><rect y="16" width="1" height="1" fill-opacity="0.3"/><rect y="17" width="1" height="1" fill-opacity="0.05"/><rect y="18" width="1" height="1" fill-opacity="0.41"/><rect y="19" width="1" height="1" fill-opacity="0.27"/><rect y="20" width="1" height="1" fill-opacity="0.37"/><rect y="21" width="1" height="1" fill-opacity="0.37"/><rect y="22" width="1" height="1" fill-opacity="0.17"/><rect y="23" width="1" height="1" fill-opacity="0.38"/><rect y="24" width="1" height="1" fill-opacity="0.34"/><rect y="25" width="1" height="1" fill-opacity="0.37"/><rect y="26" width="1" height="1" fill-opacity="0.17"/><rect y="27" width="1" height="1" fill-opacity="0.09"/><rect y="28" width="1" height="1" fill-opacity="0.37"/><rect y="29" width="1" height="1" fill-opacity="0.28"/><rect y="30" width="1" height="1" fill-opacity="0.07"/><rect y="31" width="1" height="1" fill-opacity="0.63"/><rect y="32" width="1" height="1" fill-opacity="0.63"/><rect y="33" width="1" height="1" fill-opacity="0.04"/><rect y="34" width="1" height="1" fill-opacity="0.73"/><rect y="35" width="1" height="1" fill-opacity="0.63"/><rect y="36" width="1" height="1" fill-opacity="0.07"/><rect y="37" width="1" height="1" fill-opacity="0.03"/><rect y="38" width="1" height="1" fill-opacity="0.29"/><rect y="39" width="1" height="1" fill-opacity="0.47"/><rect y="40" width="1" height="1" fill-opacity="0.41"/><rect y="41" width="1" height="1" fill-opacity="0.29"/><rect y="42" width="1" height="1" fill-opacity="0.29"/><rect y="43" width="1" height="1" fill-opacity="0.31"/><rect y="44" width="1" height="1" fill-opacity="0.75"/><rect y="45" width="1" height="1" fill-opacity="0.31"/><rect y="46" width="1" height="1" fill-opacity="0.39"/><rect y="47" width="1" height="1" fill-opacity="0.36"/><rect y="48" width="1" height="1" fill-opacity="0.12"/><rect y="49" width="1" height="1" fill-opacity="0.26"/><rect y="50" width="1" height="1" fill-opacity="0.61"/><rect y="51" width="1" height="1" fill-opacity="0.04"/><rect y="52" width="1" height="1" fill-opacity="0.64"/><rect y="53" width="1" height="1" fill-opacity="0.64"/><rect y="54" width="1" height="1" fill-opacity="0.37"/><rect y="55" width="1" height="1" fill-opacity="0.03"/><rect y="56" width="1" height="1" fill-opacity="0.34"/><rect y="57" width="1" height="1" fill-opacity="0.73"/><rect y="58" width="1" height="1" fill-opacity="0.23"/><rect y="59" width="1" height="1" fill-opacity="0"/><rect y="60" width="1" height="1" fill-opacity="0.21"/><rect y="61" width="1" height="1" fill-opacity="0.06"/><rect y="62" width="1" height="1" fill-opacity="0.01"/><rect y="63" width="1" height="1" fill-opacity="0.01"/><rect y="64" width="1" height="1" fill-opacity="0.21"/><rect y="65" width="1" height="1" fill-opacity="0.52"/><rect y="66" width="1" height="1" fill-opacity="0.07"/><rect y="67" width="1" height="1" fill-opacity="0.35"/><rect y="68" width="1" height="1" fill-opacity="0.17"/><rect y="69" width="1" height="1" fill-opacity="0"/><rect y="70" width="1" height="1" fill-opacity="0.28"/><rect y="71" width="1" height="1" fill-opacity="0.19"/><rect y="72" width="1" height="1" fill-opacity="0.33"/></g>
<g id="vq3"><rect x="0" width="1" height="1" fill="#8c8c8c"/><rect x="1" width="1" height="1" fill="#d1d1d1"/><rect x="2" width="1" height="1" fill="#2f2f2f"/><rect x="3" width="1" height="1" fill="#f9f9f9"/><rect x="4" width="1" height="1" fill="#494949"/><rect x="5" width="1" height="1" fill="#585858"/><rect x="6" width="1" height="1" fill="#909090"/><rect x="7" width="1" height="1" fill="#3b3b3b"/><rect x="8" width="1" height="1" fill="#535353"/><rect x="9" width="1" height="1" fill="#626262"/><rect x="10" width="1" height="1" fill="#838383"/><rect x="11" width="1" height="1" fill="#4b4b4b"/><rect x="12" width="1" height="1" fill="#878787"/><rect x="13" width="1" height="1" fill="#484848"/><rect x="14" width="1" height="1" fill="#777777"/><rect x="15" width="1" height="1" fill="#565656"/><rect x="16" width="1" height="1" fill="#818181"/><rect x="17" width="1" height="1" fill="#909090"/><rect x="18" width="1" height="1" fill="#737373"/><rect x="19" width="1" height="1" fill="#4d4d4d"/><rect x="20" width="1" height="1" fill="#848484"/><rect x="21" width="1" height="1" fill="#a1a1a1"/><rect x="22" width="1" height="1" fill="#909090"/><rect x="23" width="1" height="1" fill="#565656"/><rect x="24" width="1" height="1" fill="#616161"/><rect x="25" width="1" height="1" fill="#808080"/><rect x="26" width="1" height="1" fill="#777777"/><rect x="27" width="1" height="1" fill="#454545"/><rect x="28" width="1" height="1" fill="#e3e3e3"/><rect x="29" width="1" height="1" fill="#4c4c4c"/><rect x="30" width="1" height="1" fill="#f7f7f7"/><rect x="31" width="1" height="1" fill="#cacaca"/><rect x="32" width="1" height="1" fill="#393939"/><rect x="33" width="1" height="1" fill="#242424"/><rect x="34" width="1" height="1" fill="#919191"/><rect x="35" width="1" height="1" fill="#b4b4b4"/><rect x="36" width="1" height="1" fill="#ababab"/><rect x="37" width="1" height="1" fill="#676767"/><rect x="38" width="1" height="1" fill="#7e7e7e"/><rect x="39" width="1" height="1" fill="#ffffff"/><rect x="40" width="1" height="1" fill="#868686"/><rect x="41" width="1" height="1" fill="#7f7f7f"/><rect x="42" width="1" height="1" fill="#8b8b8b"/><rect x="43" width="1" height="1" fill="#686868"/><rect x="44" width="1" height="1" fill="#646464"/><rect x="45" width="1" height="1" fill="#bbbbbb"/><rect x="46" width="1" height="1" fill="#313131"/><rect x="47" width="1" height="1" fill="#e2e2e2"/><rect x="48" width="1" height="1" fill="#a6a6a6"/><rect x="49" width="1" height="1" fill="#252525"/><rect x="50" width="1" height="1" fill="#757575"/><rect x="51" width="1" height="1" fill="#dedede"/><rect x="52" width="1" height="1" fill="#626262"/><rect x="53" width="1" height="1" fill="#343434"/><rect x="54" width="1" height="1" fill="#535353"/><rect x="55" width="1" height="1" fill="#363636"/><rect x="56" width="1" height="1" fill="#232323"/><rect x="57" width="1" height="1" fill="#868686"/><rect x="58" width="1" height="1" fill="#c6c6c6"/><rect x="59" width="1" height="1" fill="#2d2d2d"/><rect x="60" width="1" height="1" fill="#a8a8a8"/><rect x="61" width="1" height="1" fill="#454545"/><rect x="62" width="1" height="1" fill="#2b2b2b"/><rect x="63" width="1" height="1" fill="#989898"/><rect x="64" width="1" height="1" fill="#767676"/><rect x="65" width="1" height="1" fill="#949494"/></g>
<g id="hq3" fill="#000"><rect y="0" width="1" height="1" fill-opacity="0.45"/><rect y="1" width="1" height="1" fill-opacity="0.45"/><rect y="2" width="1" height="1" fill-opacity="0.18"/><rect y="3" width="1" height="1" fill-opacity="0.81"/><rect y="4" width="1" height="1" fill-opacity="0.02"/><rect y="5" width="1" height="1" fill-opacity="0.71"/><rect y="6" width="1" height="1" fill-opacity="0.65"/><rect y="7" width="1" height="1" fill-opacity="0.43"/><rect y="8" width="1" height="1" fill-opacity="0.77"/><rect y="9" width="1" height="1" fill-opacity="0.67"/><rect y="10" width="1" height="1" fill-opacity="0.61"/><rect y="11" width="1" height="1" fill-opacity="0.61"/><rect y="12" width="1" height="1" fill-opacity="0.48"/><rect y="13" width="1" height="1" fill-opacity="0.71"/><rect y="14" width="1" height="1" fill-opacity="0.47"/><rect y="15" width="1" height="1" fill-opacity="0.71"/><rect y="16" width="1" height="1" fill-opacity="0.53"/><rect y="17" width="1" height="1" fill-opacity="0.66"/><rect y="18" width="1" height="1" fill-opacity="0.49"/><rect y="19" width="1" height="1" fill-opacity="0.43"/><rect y="20" width="1" height="1" fill-opacity="0.55"/><rect y="21" width="1" height="1" fill-opacity="0.55"/><rect y="22" width="1" height="1" fill-opacity="0.7"/><rect y="23" width="1" height="1" fill-opacity="0.48"/><rect y="24" width="1" height="1" fill-opacity="0.37"/><rect y="25" width="1" height="1" fill-opacity="0.43"/><rect y="26" width="1" height="1" fill-opacity="0.66"/><rect y="27" width="1" height="1" fill-opacity="0.62"/><rect y="28" width="1" height="1" fill-opacity="0.49"/><rect y="29" width="1" height="1" fill-opacity="0.53"/><rect y="30" width="1" height="1" fill-opacity="0.73"/><rect y="31" width="1" height="1" fill-opacity="0.11"/><rect y="32" width="1" height="1" fill-opacity="0.11"/><rect y="33" width="1" height="1" fill-opacity="0.7"/><rect y="34" width="1" height="1" fill-opacity="0.03"/><rect y="35" width="1" height="1" fill-opacity="0.2"/><rect y="36" width="1" height="1" fill-opacity="0.77"/><rect y="37" width="1" height="1" fill-opacity="0.86"/><rect y="38" width="1" height="1" fill-opacity="0.43"/><rect y="39" width="1" height="1" fill-opacity="0.29"/><rect y="40" width="1" height="1" fill-opacity="0.33"/><rect y="41" width="1" height="1" fill-opacity="0.59"/><rect y="42" width="1" height="1" fill-opacity="0.59"/><rect y="43" width="1" height="1" fill-opacity="0.51"/><rect y="44" width="1" height="1" fill-opacity="0"/><rect y="45" width="1" height="1" fill-opacity="0.47"/><rect y="46" width="1" height="1" fill-opacity="0.5"/><rect y="47" width="1" height="1" fill-opacity="0.45"/><rect y="48" width="1" height="1" fill-opacity="0.59"/><rect y="49" width="1" height="1" fill-opacity="0.61"/><rect y="50" width="1" height="1" fill-opacity="0.27"/><rect y="51" width="1" height="1" fill-opacity="0.81"/><rect y="52" width="1" height="1" fill-opacity="0.11"/><rect y="53" width="1" height="1" fill-opacity="0.11"/><rect y="54" width="1" height="1" fill-opacity="0.35"/><rect y="55" width="1" height="1" fill-opacity="0.85"/><rect y="56" width="1" height="1" fill-opacity="0.54"/><rect y="57" width="1" height="1" fill-opacity="0.13"/><rect y="58" width="1" height="1" fill-opacity="0.61"/><rect y="59" width="1" height="1" fill-opacity="0.79"/><rect y="60" width="1" height="1" fill-opacity="0.67"/><rect y="61" width="1" height="1" fill-opacity="0.79"/><rect y="62" width="1" height="1" fill-opacity="0.86"/><rect y="63" width="1" height="1" fill-opacity="0.86"/><rect y="64" width="1" height="1" fill-opacity="0.47"/><rect y="65" width="1" height="1" fill-opacity="0.22"/><rect y="66" width="1" height="1" fill-opacity="0.82"/><rect y="67" width="1" height="1" fill-opacity="0.34"/><rect y="68" width="1" height="1" fill-opacity="0.73"/><rect y="69" width="1" height="1" fill-opacity="0.83"/><rect y="70" width="1" height="1" fill-opacity="0.4"/><rect y="71" width="1" height="1" fill-opacity="0.54"/><rect y="72" width="1" height="1" fill-opacity="0.42"/></g>
<g id="vc4"><rect x="0" width="1" height="1" fill="#cacaca"/><rect x="1" width="1" height="1" fill="#9d9d9d"/><rect x="2" width="1" height="1" fill="#a2a2a2"/><rect x="3" width="1" height="1" fill="#878787"/><rect x="4" width="1" height="1" fill="#6c6c6c"/><rect x="5" width="1" height="1" fill="#8a8a8a"/><rect x="6" width="1" height="1" fill="#5d5d5d"/><rect x="7" width="1" height="1" fill="#f7f7f7"/><rect x="8" width="1" height="1" fill="#fdfdfd"/><rect x="9" width="1" height="1" fill="#989898"/><rect x="10" width="1" height="1" fill="#595959"/><rect x="11" width="1" height="1" fill="#c8c8c8"/><rect x="12" width="1" height="1" fill="#c6c6c6"/><rect x="13" width="1" height="1" fill="#e6e6e6"/><rect x="14" width="1" height="1" fill="#fcfcfc"/><rect x="15" width="1" height="1" fill="#a3a3a3"/><rect x="16" width="1" height="1" fill="#b8b8b8"/><rect x="17" width="1" height="1" fill="#c0c0c0"/><rect x="18" width="1" height="1" fill="#aaaaaa"/><rect x="19" width="1" height="1" fill="#aeaeae"/><rect x="20" width="1" height="1" fill="#767676"/><rect x="21" width="1" height="1" fill="#b6b6b6"/><rect x="22" width="1" height="1" fill="#ffffff"/><rect x="23" width="1" height="1" fill="#aaaaaa"/><rect x="24" width="1" height="1" fill="#dcdcdc"/><rect x="25" width="1" height="1" fill="#9c9c9c"/><rect x="26" width="1" height="1" fill="#f2f2f2"/><rect x="27" width="1" height="1" fill="#ffffff"/><rect x="28" width="1" height="1" fill="#494949"/><rect x="29" width="1" height="1" fill="#acacac"/><rect x="30" width="1" height="1" fill="#dddddd"/><rect x="31" width="1" height="1" fill="#c5c5c5"/><rect x="32" width="1" height="1" fill="#d0d0d0"/><rect x="33" width="1" height="1" fill="#f9f9f9"/><rect x="34" width="1" height="1" fill="#a5a5a5"/><rect x="35" width="1" height="1" fill="#e4e4e4"/><rect x="36" width="1" height="1" fill="#4f4f4f"/><rect x="37" width="1" height="1" fill="#adadad"/><rect x="38" width="1" height="1" fill="#dadada"/><rect x="39" width="1" height="1" fill="#a8a8a8"/><rect x="40" width="1" height="1" fill="#4c4c4c"/><rect x="41" width="1" height="1" fill="#9f9f9f"/><rect x="42" width="1" height="1" fill="#9e9e9e"/><rect x="43" width="1" height="1" fill="#c0c0c0"/><rect x="44" width="1" height="1" fill="#3a3a3a"/><rect x="45" width="1" height="1" fill="#bababa"/><rect x="46" width="1" height="1" fill="#888888"/><rect x="47" width="1" height="1" fill="#686868"/><rect x="48" width="1" height="1" fill="#9a9a9a"/><rect x="49" width="1" height="1" fill="#e0e0e0"/><rect x="50" width="1" height="1" fill="#b9b9b9"/><rect x="51" width="1" height="1" fill="#ababab"/><rect x="52" width="1" height="1" fill="#eaeaea"/><rect x="53" width="1" height="1" fill="#989898"/><rect x="54" width="1" height="1" fill="#9a9a9a"/><rect x="55" width="1" height="1" fill="#777777"/><rect x="56" width="1" height="1" fill="#e3e3e3"/><rect x="57" width="1" height="1" fill="#ececec"/><rect x="58" width="1" height="1" fill="#9c9c9c"/><rect x="59" width="1" height="1" fill="#5d5d5d"/><rect x="60" width="1" height="1" fill="#f1f1f1"/><rect x="61" width="1" height="1" fill="#626262"/></g>
<g id="hr4" fill="#000"><rect y="0" width="1" height="1" fill-opacity="0.21"/><rect y="1" width="1" height="1" fill-opacity="0.21"/><rect y="2" width="1" height="1" fill-opacity="0.38"/><rect y="3" width="1" height="1" fill-opacity="0.36"/><rect y="4" width="1" height="1" fill-opacity="0.47"/><rect y="5" width="1" height="1" fill-opacity="0.57"/><rect y="6" width="1" height="1" fill-opacity="0.46"/><rect y="7" width="1" height="1" fill-opacity="0.63"/><rect y="8" width="1" height="1" fill-opacity="0.03"/><rect y="9" width="1" height="1" fill-opacity="0.01"/><rect y="10" width="1" height="1" fill-opacity="0.4"/><rect y="11" width="1" height="1" fill-opacity="0.65"/><rect y="12" width="1" height="1" fill-opacity="0.22"/><rect y="13" width="1" height="1" fill-opacity="0.22"/><rect y="14" width="1" height="1" fill-opacity="0.22"/><rect y="15" width="1" height="1" fill-opacity="0.1"/><rect y="16" width="1" height="1" fill-opacity="0.01"/><rect y="17" width="1" height="1" fill-opacity="0.36"/><rect y="18" width="1" height="1" fill-opacity="0.28"/><rect y="19" width="1" height="1" fill-opacity="0.24"/><rect y="20" width="1" height="1" fill-opacity="0.33"/><rect y="21" width="1" height="1" fill-opacity="0.31"/><rect y="22" width="1" height="1" fill-opacity="0.53"/><rect y="23" width="1" height="1" fill-opacity="0.28"/><rect y="24" width="1" height="1" fill-opacity="0"/><rect y="25" width="1" height="1" fill-opacity="0.33"/><rect y="26" width="1" height="1" fill-opacity="0.14"/><rect y="27" width="1" height="1" fill-opacity="0.14"/><rect y="28" width="1" height="1" fill-opacity="0.39"/><rect y="29" width="1" height="1" fill-opacity="0.05"/><rect y="30" width="1" height="1" fill-opacity="0"/><rect y="31" width="1" height="1" fill-opacity="0.71"/><rect y="32" width="1" height="1" fill-opacity="0.33"/><rect y="33" width="1" height="1" fill-opacity="0.13"/><rect y="34" width="1" height="1" fill-opacity="0.23"/><rect y="35" width="1" height="1" fill-opacity="0.18"/><rect y="36" width="1" height="1" fill-opacity="0.02"/><rect y="37" width="1" height="1" fill-opacity="0.35"/><rect y="38" width="1" height="1" fill-opacity="0.1"/><rect y="39" width="1" height="1" fill-opacity="0.69"/><rect y="40" width="1" height="1" fill-opacity="0.32"/><rect y="41" width="1" height="1" fill-opacity="0.32"/><rect y="42" width="1" height="1" fill-opacity="0.14"/><rect y="43" width="1" height="1" fill-opacity="0.34"/><rect y="44" width="1" height="1" fill-opacity="0.7"/><rect y="45" width="1" height="1" fill-opacity="0.37"/><rect y="46" width="1" height="1" fill-opacity="0.38"/><rect y="47" width="1" height="1" fill-opacity="0.25"/><rect y="48" width="1" height="1" fill-opacity="0.77"/><rect y="49" width="1" height="1" fill-opacity="0.27"/><rect y="50" width="1" height="1" fill-opacity="0.47"/><rect y="51" width="1" height="1" fill-opacity="0.59"/><rect y="52" width="1" height="1" fill-opacity="0.39"/><rect y="53" width="1" height="1" fill-opacity="0.12"/><rect y="54" width="1" height="1" fill-opacity="0.12"/><rect y="55" width="1" height="1" fill-opacity="0.27"/><rect y="56" width="1" height="1" fill-opacity="0.33"/><rect y="57" width="1" height="1" fill-opacity="0.08"/><rect y="58" width="1" height="1" fill-opacity="0.4"/><rect y="59" width="1" height="1" fill-opacity="0.39"/><rect y="60" width="1" height="1" fill-opacity="0.53"/><rect y="61" width="1" height="1" fill-opacity="0.11"/><rect y="62" width="1" height="1" fill-opacity="0.07"/><rect y="63" width="1" height="1" fill-opacity="0.39"/><rect y="64" width="1" height="1" fill-opacity="0.63"/><rect y="65" width="1" height="1" fill-opacity="0.05"/><rect y="66" width="1" height="1" fill-opacity="0.61"/></g>
<g id="vq4"><rect x="0" width="1" height="1" fill="#636363"/><rect x="1" width="1" height="1" fill="#818181"/><rect x="2" width="1" height="1" fill="#979797"/><rect x="3" width="1" height="1" fill="#929292"/><rect x="4" width="1" height="1" fill="#b3b3b3"/><rect x="5" width="1" height="1" fill="#a0a0a0"/><rect x="6" width="1" height="1" fill="#b8b8b8"/><rect x="7" width="1" height="1" fill="#343434"/><rect x="8" width="1" height="1" fill="#464646"/><rect x="9" width="1" height="1" fill="#a5a5a5"/><rect x="10" width="1" height="1" fill="#d8d8d8"/><rect x="11" width="1" height="1" fill="#717171"/><rect x="12" width="1" height="1" fill="#696969"/><rect x="13" width="1" height="1" fill="#353535"/><rect x="14" width="1" height="1" fill="#3c3c3c"/><rect x="15" width="1" height="1" fill="#888888"/><rect x="16" width="1" height="1" fill="#888888"/><rect x="17" width="1" height="1" fill="#8a8a8a"/><rect x="18" width="1" height="1" fill="#838383"/><rect x="19" width="1" height="1" fill="#878787"/><rect x="20" width="1" height="1" fill="#cacaca"/><rect x="21" width="1" height="1" fill="#767676"/><rect x="22" width="1" height="1" fill="#222222"/><rect x="23" width="1" height="1" fill="#959595"/><rect x="24" width="1" height="1" fill="#6c6c6c"/><rect x="25" width="1" height="1" fill="#a6a6a6"/><rect x="26" width="1" height="1" fill="#4c4c4c"/><rect x="27" width="1" height="1" fill="#484848"/><rect x="28" width="1" height="1" fill="#f3f3f3"/><rect x="29" width="1" height="1" fill="#8e8e8e"/><rect x="30" width="1" height="1" fill="#515151"/><rect x="31" width="1" height="1" fill="#616161"/><rect x="32" width="1" height="1" fill="#696969"/><rect x="33" width="1" height="1" fill="#1f1f1f"/><rect x="34" width="1" height="1" fill="#878787"/><rect x="35" width="1" height="1" fill="#5e5e5e"/><rect x="36" width="1" height="1" fill="#efefef"/><rect x="37" width="1" height="1" fill="#8c8c8c"/><rect x="38" width="1" height="1" fill="#484848"/><rect x="39" width="1" height="1" fill="#858585"/><rect x="40" width="1" height="1" fill="#e3e3e3"/><rect x="41" width="1" height="1" fill="#9a9a9a"/><rect x="42" width="1" height="1" fill="#8e8e8e"/><rect x="43" width="1" height="1" fill="#7c7c7c"/><rect x="44" width="1" height="1" fill="#ffffff"/><rect x="45" width="1" height="1" fill="#646464"/><rect x="46" width="1" height="1" fill="#b3b3b3"/><rect x="47" width="1" height="1" fill="#dadada"/><rect x="48" width="1" height="1" fill="#909090"/><rect x="49" width="1" height="1" fill="#515151"/><rect x="50" width="1" height="1" fill="#959595"/><rect x="51" width="1" height="1" fill="#6a6a6a"/><rect x="52" width="1" height="1" fill="#4a4a4a"/><rect x="53" width="1" height="1" fill="#858585"/><rect x="54" width="1" height="1" fill="#a8a8a8"/><rect x="55" width="1" height="1" fill="#d4d4d4"/><rect x="56" width="1" height="1" fill="#505050"/><rect x="57" width="1" height="1" fill="#2d2d2d"/><rect x="58" width="1" height="1" fill="#9a9a9a"/><rect x="59" width="1" height="1" fill="#d7d7d7"/><rect x="60" width="1" height="1" fill="#4d4d4d"/><rect x="61" width="1" height="1" fill="#d0d0d0"/></g>
<g id="hq4" fill="#000"><rect y="0" width="1" height="1" fill-opacity="0.61"/><rect y="1" width="1" height="1" fill-opacity="0.61"/><rect y="2" width="1" height="1" fill-opacity="0.49"/><rect y="3" width="1" height="1" fill-opacity="0.41"/><rect y="4" width="1" height="1" fill-opacity="0.43"/><rect y="5" width="1" height="1" fill-opacity="0.3"/><rect y="6" width="1" height="1" fill-opacity="0.37"/><rect y="7" width="1" height="1" fill-opacity="0.28"/><rect y="8" width="1" height="1" fill-opacity="0.79"/><rect y="9" width="1" height="1" fill-opacity="0.72"/><rect y="10" width="1" height="1" fill-opacity="0.35"/><rect y="11" width="1" height="1" fill-opacity="0.15"/><rect y="12" width="1" height="1" fill-opacity="0.55"/><rect y="13" width="1" height="1" fill-opacity="0.59"/><rect y="14" width="1" height="1" fill-opacity="0.59"/><rect y="15" width="1" height="1" fill-opacity="0.79"/><rect y="16" width="1" height="1" fill-opacity="0.76"/><rect y="17" width="1" height="1" fill-opacity="0.46"/><rect y="18" width="1" height="1" fill-opacity="0.46"/><rect y="19" width="1" height="1" fill-opacity="0.46"/><rect y="20" width="1" height="1" fill-opacity="0.49"/><rect y="21" width="1" height="1" fill-opacity="0.47"/><rect y="22" width="1" height="1" fill-opacity="0.21"/><rect y="23" width="1" height="1" fill-opacity="0.53"/><rect y="24" width="1" height="1" fill-opacity="0.87"/><rect y="25" width="1" height="1" fill-opacity="0.42"/><rect y="26" width="1" height="1" fill-opacity="0.57"/><rect y="27" width="1" height="1" fill-opacity="0.57"/><rect y="28" width="1" height="1" fill-opacity="0.35"/><rect y="29" width="1" height="1" fill-opacity="0.7"/><rect y="30" width="1" height="1" fill-opacity="0.72"/><rect y="31" width="1" height="1" fill-opacity="0.05"/><rect y="32" width="1" height="1" fill-opacity="0.44"/><rect y="33" width="1" height="1" fill-opacity="0.68"/><rect y="34" width="1" height="1" fill-opacity="0.62"/><rect y="35" width="1" height="1" fill-opacity="0.59"/><rect y="36" width="1" height="1" fill-opacity="0.88"/><rect y="37" width="1" height="1" fill-opacity="0.47"/><rect y="38" width="1" height="1" fill-opacity="0.63"/><rect y="39" width="1" height="1" fill-opacity="0.06"/><rect y="40" width="1" height="1" fill-opacity="0.45"/><rect y="41" width="1" height="1" fill-opacity="0.45"/><rect y="42" width="1" height="1" fill-opacity="0.72"/><rect y="43" width="1" height="1" fill-opacity="0.48"/><rect y="44" width="1" height="1" fill-opacity="0.11"/><rect y="45" width="1" height="1" fill-opacity="0.4"/><rect y="46" width="1" height="1" fill-opacity="0.44"/><rect y="47" width="1" height="1" fill-opacity="0.51"/><rect y="48" width="1" height="1" fill-opacity="0"/><rect y="49" width="1" height="1" fill-opacity="0.61"/><rect y="50" width="1" height="1" fill-opacity="0.3"/><rect y="51" width="1" height="1" fill-opacity="0.14"/><rect y="52" width="1" height="1" fill-opacity="0.43"/><rect y="53" width="1" height="1" fill-opacity="0.68"/><rect y="54" width="1" height="1" fill-opacity="0.68"/><rect y="55" width="1" height="1" fill-opacity="0.41"/><rect y="56" width="1" height="1" fill-opacity="0.58"/><rect y="57" width="1" height="1" fill-opacity="0.71"/><rect y="58" width="1" height="1" fill-opacity="0.48"/><rect y="59" width="1" height="1" fill-opacity="0.34"/><rect y="60" width="1" height="1" fill-opacity="0.16"/><rect y="61" width="1" height="1" fill-opacity="0.69"/><rect y="62" width="1" height="1" fill-opacity="0.82"/><rect y="63" width="1" height="1" fill-opacity="0.4"/><rect y="64" width="1" height="1" fill-opacity="0.16"/><rect y="65" width="1" height="1" fill-opacity="0.7"/><rect y="66" width="1" height="1" fill-opacity="0.18"/></g>
<filter id="gr17" x="0" y="0" width="1" height="1" color-interpolation-filters="sRGB"><feComponentTransfer><feFuncR type="linear" slope="0.17"/><feFuncG type="linear" slope="0.17"/><feFuncB type="linear" slope="0.17"/></feComponentTransfer><feComponentTransfer><feFuncR type="table" tableValues="0.043 0.06 0.12 0.42 0.70"/><feFuncG type="table" tableValues="0.996 0.60 0.19 0.10 0.08"/><feFuncB type="table" tableValues="0.09 0.06 0.02 0.03 0.05"/></feComponentTransfer><feGaussianBlur stdDeviation="0.5"/></filter>
<filter id="gr30" x="0" y="0" width="1" height="1" color-interpolation-filters="sRGB"><feComponentTransfer><feFuncR type="linear" slope="0.3"/><feFuncG type="linear" slope="0.3"/><feFuncB type="linear" slope="0.3"/></feComponentTransfer><feComponentTransfer><feFuncR type="table" tableValues="0.043 0.06 0.12 0.42 0.70"/><feFuncG type="table" tableValues="0.996 0.60 0.19 0.10 0.08"/><feFuncB type="table" tableValues="0.09 0.06 0.02 0.03 0.05"/></feComponentTransfer><feGaussianBlur stdDeviation="0.5"/></filter>
<filter id="gr56" x="0" y="0" width="1" height="1" color-interpolation-filters="sRGB"><feComponentTransfer><feFuncR type="linear" slope="0.56"/><feFuncG type="linear" slope="0.56"/><feFuncB type="linear" slope="0.56"/></feComponentTransfer><feComponentTransfer><feFuncR type="table" tableValues="0.043 0.06 0.12 0.42 0.70"/><feFuncG type="table" tableValues="0.996 0.60 0.19 0.10 0.08"/><feFuncB type="table" tableValues="0.09 0.06 0.02 0.03 0.05"/></feComponentTransfer><feGaussianBlur stdDeviation="0.5"/></filter>
<filter id="gr58" x="0" y="0" width="1" height="1" color-interpolation-filters="sRGB"><feComponentTransfer><feFuncR type="linear" slope="0.58"/><feFuncG type="linear" slope="0.58"/><feFuncB type="linear" slope="0.58"/></feComponentTransfer><feComponentTransfer><feFuncR type="table" tableValues="0.043 0.06 0.12 0.42 0.70"/><feFuncG type="table" tableValues="0.996 0.60 0.19 0.10 0.08"/><feFuncB type="table" tableValues="0.09 0.06 0.02 0.03 0.05"/></feComponentTransfer><feGaussianBlur stdDeviation="0.5"/></filter>
<filter id="gr60" x="0" y="0" width="1" height="1" color-interpolation-filters="sRGB"><feComponentTransfer><feFuncR type="linear" slope="0.6"/><feFuncG type="linear" slope="0.6"/><feFuncB type="linear" slope="0.6"/></feComponentTransfer><feComponentTransfer><feFuncR type="table" tableValues="0.043 0.06 0.12 0.42 0.70"/><feFuncG type="table" tableValues="0.996 0.60 0.19 0.10 0.08"/><feFuncB type="table" tableValues="0.09 0.06 0.02 0.03 0.05"/></feComponentTransfer><feGaussianBlur stdDeviation="0.5"/></filter>
<filter id="gr64" x="0" y="0" width="1" height="1" color-interpolation-filters="sRGB"><feComponentTransfer><feFuncR type="linear" slope="0.64"/><feFuncG type="linear" slope="0.64"/><feFuncB type="linear" slope="0.64"/></feComponentTransfer><feComponentTransfer><feFuncR type="table" tableValues="0.043 0.06 0.12 0.42 0.70"/><feFuncG type="table" tableValues="0.996 0.60 0.19 0.10 0.08"/><feFuncB type="table" tableValues="0.09 0.06 0.02 0.03 0.05"/></feComponentTransfer><feGaussianBlur stdDeviation="0.5"/></filter>
<filter id="gr72" x="0" y="0" width="1" height="1" color-interpolation-filters="sRGB"><feComponentTransfer><feFuncR type="linear" slope="0.72"/><feFuncG type="linear" slope="0.72"/><feFuncB type="linear" slope="0.72"/></feComponentTransfer><feComponentTransfer><feFuncR type="table" tableValues="0.043 0.06 0.12 0.42 0.70"/><feFuncG type="table" tableValues="0.996 0.60 0.19 0.10 0.08"/><feFuncB type="table" tableValues="0.09 0.06 0.02 0.03 0.05"/></feComponentTransfer><feGaussianBlur stdDeviation="0.5"/></filter>
<filter id="gr79" x="0" y="0" width="1" height="1" color-interpolation-filters="sRGB"><feComponentTransfer><feFuncR type="linear" slope="0.79"/><feFuncG type="linear" slope="0.79"/><feFuncB type="linear" slope="0.79"/></feComponentTransfer><feComponentTransfer><feFuncR type="table" tableValues="0.043 0.06 0.12 0.42 0.70"/><feFuncG type="table" tableValues="0.996 0.60 0.19 0.10 0.08"/><feFuncB type="table" tableValues="0.09 0.06 0.02 0.03 0.05"/></feComponentTransfer><feGaussianBlur stdDeviation="0.5"/></filter>
<filter id="gr80" x="0" y="0" width="1" height="1" color-interpolation-filters="sRGB"><feComponentTransfer><feFuncR type="linear" slope="0.8"/><feFuncG type="linear" slope="0.8"/><feFuncB type="linear" slope="0.8"/></feComponentTransfer><feComponentTransfer><feFuncR type="table" tableValues="0.043 0.06 0.12 0.42 0.70"/><feFuncG type="table" tableValues="0.996 0.60 0.19 0.10 0.08"/><feFuncB type="table" tableValues="0.09 0.06 0.02 0.03 0.05"/></feComponentTransfer><feGaussianBlur stdDeviation="0.5"/></filter>
<linearGradient id="key" x1="0" x2="1" y1="0" y2="0">
<stop offset="0" stop-color="#00ff00"/><stop offset="0.5" stop-color="#000000"/><stop offset="1" stop-color="#ff0000"/>
</linearGradient>
</defs>
<rect width="1182" height="782" fill="#fff"/>
<text x="65.4" y="27.4" font-size="27.2" textLength="32.1" lengthAdjust="spacingAndGlyphs">(a)</text>
<rect x="115.2" y="56.8" width="4.88" height="15.7" fill="#00ff00"/>
<rect x="119.78" y="56.8" width="4.88" height="15.7" fill="#00dd00"/>
<rect x="124.35" y="56.8" width="4.88" height="15.7" fill="#00bb00"/>
<rect x="128.93" y="56.8" width="4.88" height="15.7" fill="#009900"/>
<rect x="133.5" y="56.8" width="4.88" height="15.7" fill="#007700"/>
<rect x="138.07" y="56.8" width="4.88" height="15.7" fill="#005500"/>
<rect x="142.65" y="56.8" width="4.88" height="15.7" fill="#003200"/>
<rect x="147.22" y="56.8" width="4.88" height="15.7" fill="#001000"/>
<rect x="151.8" y="56.8" width="4.88" height="15.7" fill="#100000"/>
<rect x="156.38" y="56.8" width="4.88" height="15.7" fill="#320000"/>
<rect x="160.95" y="56.8" width="4.88" height="15.7" fill="#540000"/>
<rect x="165.53" y="56.8" width="4.88" height="15.7" fill="#760000"/>
<rect x="170.1" y="56.8" width="4.88" height="15.7" fill="#990000"/>
<rect x="174.68" y="56.8" width="4.88" height="15.7" fill="#bb0000"/>
<rect x="179.25" y="56.8" width="4.88" height="15.7" fill="#dd0000"/>
<rect x="183.82" y="56.8" width="4.58" height="15.7" fill="#ff0000"/>
<path d="M115.4 72.5H188.1" stroke="#111" stroke-width="1.2" fill="none"/>
<path d="M115.4 72.2V83.6" stroke="#111" stroke-width="1.3" fill="none"/>
<path d="M130 72.2V83.6" stroke="#111" stroke-width="1.3" fill="none"/>
<path d="M144.4 72.2V83.6" stroke="#111" stroke-width="1.3" fill="none"/>
<path d="M158.8 72.2V83.6" stroke="#111" stroke-width="1.3" fill="none"/>
<path d="M173.3 72.2V83.6" stroke="#111" stroke-width="1.3" fill="none"/>
<path d="M188.1 72.2V83.6" stroke="#111" stroke-width="1.3" fill="none"/>
<text x="115.4" y="110.9" font-size="17" text-anchor="middle" textLength="8.6" lengthAdjust="spacingAndGlyphs" fill="#111">0</text>
<text x="158.8" y="110.9" font-size="17" text-anchor="middle" textLength="21.6" lengthAdjust="spacingAndGlyphs" fill="#111">0.6</text>
<text x="92" y="138.4" font-size="17" textLength="119.5" lengthAdjust="spacingAndGlyphs" fill="#111">Co−membership</text>
<rect x="234.3" y="123.4" width="400.9" height="41.5" fill="#fff" stroke="#111" stroke-width="1.3"/>
<path d="M249.2 144.2H277.8" stroke="#000000" stroke-width="3.3" stroke-linecap="round" fill="none"/>
<text x="292.2" y="150.5" font-size="17.6" textLength="19.6" lengthAdjust="spacingAndGlyphs" fill="#111">C1</text>
<path d="M327.9 144.2H356.5" stroke="#DF536B" stroke-width="3.3" stroke-linecap="round" fill="none"/>
<text x="370.9" y="150.5" font-size="17.6" textLength="19.6" lengthAdjust="spacingAndGlyphs" fill="#111">C2</text>
<path d="M406.6 144.2H435.2" stroke="#61D04F" stroke-width="3.3" stroke-linecap="round" fill="none"/>
<text x="449.6" y="150.5" font-size="17.6" textLength="19.6" lengthAdjust="spacingAndGlyphs" fill="#111">C3</text>
<path d="M485.3 144.2H513.9" stroke="#2297E6" stroke-width="3.3" stroke-linecap="round" fill="none"/>
<text x="528.3" y="150.5" font-size="17.6" textLength="19.6" lengthAdjust="spacingAndGlyphs" fill="#111">C4</text>
<path d="M564 144.2H592.6" stroke="#28E2E5" stroke-width="3.3" stroke-linecap="round" fill="none"/>
<text x="607" y="150.5" font-size="17.6" textLength="19.6" lengthAdjust="spacingAndGlyphs" fill="#111">C5</text>
<rect x="232.9" y="178.6" width="132.1" height="21.4" fill="#000000"/>
<rect x="207.1" y="206.9" width="19.7" height="144.2" fill="#000000"/>
<rect x="364.7" y="178.6" width="124.9" height="21.4" fill="#DF536B"/>
<rect x="207.1" y="350.8" width="19.7" height="137.5" fill="#DF536B"/>
<rect x="489.3" y="178.6" width="72.9" height="21.4" fill="#61D04F"/>
<rect x="207.1" y="488" width="19.7" height="79.5" fill="#61D04F"/>
<rect x="561.9" y="178.6" width="66.7" height="21.4" fill="#2297E6"/>
<rect x="207.1" y="567.2" width="19.7" height="73.2" fill="#2297E6"/>
<rect x="628.3" y="178.6" width="62.2" height="21.4" fill="#28E2E5"/>
<rect x="207.1" y="640.1" width="19.7" height="67.2" fill="#28E2E5"/>
<rect x="232.9" y="206.9" width="457.6" height="500.4" fill="#0bfe17"/>
<g filter="url(#gr80)"><use href="#vc0" transform="translate(233 207) scale(1 144)"/><use href="#hr0" transform="translate(233 207) scale(132 1)"/></g>
<g filter="url(#gr79)"><use href="#vc1" transform="translate(365 351) scale(1 137)"/><use href="#hr1" transform="translate(365 351) scale(124 1)"/></g>
<g filter="url(#gr58)"><use href="#vc2" transform="translate(489 488) scale(1 79)"/><use href="#hr2" transform="translate(489 488) scale(73 1)"/></g>
<g filter="url(#gr64)"><use href="#vc3" transform="translate(562 567) scale(1 73)"/><use href="#hr3" transform="translate(562 567) scale(66 1)"/></g>
<g filter="url(#gr56)"><use href="#vc4" transform="translate(628 640) scale(1 67)"/><use href="#hr4" transform="translate(628 640) scale(62 1)"/></g>
<g filter="url(#gr72)"><use href="#vq2" transform="translate(489 351) scale(1 137)"/><use href="#hq1" transform="translate(489 351) scale(73 1)"/></g>
<g filter="url(#gr72)"><use href="#vq1" transform="translate(365 488) scale(1 79)"/><use href="#hq2" transform="translate(365 488) scale(124 1)"/></g>
<g filter="url(#gr30)"><use href="#vq4" transform="translate(628 351) scale(1 137)"/><use href="#hq1" transform="translate(628 351) scale(62 1)"/></g>
<g filter="url(#gr30)"><use href="#vq1" transform="translate(365 640) scale(1 67)"/><use href="#hq4" transform="translate(365 640) scale(124 1)"/></g>
<g filter="url(#gr60)"><use href="#vq4" transform="translate(628 488) scale(1 79)"/><use href="#hq2" transform="translate(628 488) scale(62 1)"/></g>
<g filter="url(#gr60)"><use href="#vq2" transform="translate(489 640) scale(1 67)"/><use href="#hq4" transform="translate(489 640) scale(73 1)"/></g>
<g filter="url(#gr17)"><use href="#vq3" transform="translate(562 207) scale(1 144)"/><use href="#hq0" transform="translate(562 207) scale(66 1)"/></g>
<g filter="url(#gr17)"><use href="#vq0" transform="translate(233 567) scale(1 73)"/><use href="#hq3" transform="translate(233 567) scale(132 1)"/></g>
<path d="M177.35 207.7 C167.15 207.7 163.75 215.4 163.75 229.7 L163.75 256.3 C163.75 270.6 153.55 277.8 146.75 278.3 C153.55 278.8 163.75 286 163.75 300.3 L163.75 326 C163.75 340.3 167.15 348 177.35 348" stroke="#000" stroke-width="1.9" fill="none" stroke-linecap="round"/>
<path d="M178.25 207.7 C168.05 207.7 164.65 215.4 164.65 229.7 L164.65 256.3 C164.65 270.6 154.45 277.8 147.65 278.3 C154.45 278.8 164.65 286 164.65 300.3 L164.65 326 C164.65 340.3 168.05 348 178.25 348" stroke="#000" stroke-width="1.9" fill="none" stroke-linecap="round"/>
<path d="M177.35 349.2 C167.15 349.2 163.75 356.9 163.75 371.2 L163.75 397.8 C163.75 412.1 153.55 419.3 146.75 419.8 C153.55 420.3 163.75 427.5 163.75 441.8 L163.75 464.7 C163.75 479 167.15 486.7 177.35 486.7" stroke="#000" stroke-width="1.9" fill="none" stroke-linecap="round"/>
<path d="M178.25 349.2 C168.05 349.2 164.65 356.9 164.65 371.2 L164.65 397.8 C164.65 412.1 154.45 419.3 147.65 419.8 C154.45 420.3 164.65 427.5 164.65 441.8 L164.65 464.7 C164.65 479 168.05 486.7 178.25 486.7" stroke="#000" stroke-width="1.9" fill="none" stroke-linecap="round"/>
<path d="M177.35 486.7 C167.15 486.7 163.75 493.4 163.75 505.84 L163.75 506.56 C163.75 519 153.55 525.2 146.75 525.7 C153.55 526.2 163.75 532.4 163.75 544.84 L163.75 547.96 C163.75 560.4 167.15 567.1 177.35 567.1" stroke="#000" stroke-width="1.9" fill="none" stroke-linecap="round"/>
<path d="M178.25 486.7 C168.05 486.7 164.65 493.4 164.65 505.84 L164.65 506.56 C164.65 519 154.45 525.2 147.65 525.7 C154.45 526.2 164.65 532.4 164.65 544.84 L164.65 547.96 C164.65 560.4 168.05 567.1 178.25 567.1" stroke="#000" stroke-width="1.9" fill="none" stroke-linecap="round"/>
<path d="M177.35 567.2 C167.15 567.2 163.75 573.08 163.75 584.01 L163.75 585.79 C163.75 596.72 153.55 602.1 146.75 602.6 C153.55 603.1 163.75 608.48 163.75 619.41 L163.75 620.99 C163.75 631.92 167.15 637.8 177.35 637.8" stroke="#000" stroke-width="1.9" fill="none" stroke-linecap="round"/>
<path d="M178.25 567.2 C168.05 567.2 164.65 573.08 164.65 584.01 L164.65 585.79 C164.65 596.72 154.45 602.1 147.65 602.6 C154.45 603.1 164.65 608.48 164.65 619.41 L164.65 620.99 C164.65 631.92 168.05 637.8 178.25 637.8" stroke="#000" stroke-width="1.9" fill="none" stroke-linecap="round"/>
<path d="M177.35 637.8 C167.15 637.8 163.75 643.46 163.75 653.97 L163.75 657.33 C163.75 667.84 153.55 673 146.75 673.5 C153.55 674 163.75 679.16 163.75 689.67 L163.75 689.53 C163.75 700.04 167.15 705.7 177.35 705.7" stroke="#000" stroke-width="1.9" fill="none" stroke-linecap="round"/>
<path d="M178.25 637.8 C168.05 637.8 164.65 643.46 164.65 653.97 L164.65 657.33 C164.65 667.84 154.45 673 147.65 673.5 C154.45 674 164.65 679.16 164.65 689.67 L164.65 689.53 C164.65 700.04 168.05 705.7 178.25 705.7" stroke="#000" stroke-width="1.9" fill="none" stroke-linecap="round"/>
<text x="7.8" y="288.1" font-size="27.6" textLength="124.4" lengthAdjust="spacingAndGlyphs">Module 1</text>
<text x="7.8" y="429" font-size="27.6" textLength="124.4" lengthAdjust="spacingAndGlyphs">Module 2</text>
<text x="7.8" y="537.4" font-size="27.6" textLength="124.4" lengthAdjust="spacingAndGlyphs">Module 3</text>
<text x="6" y="614.3" font-size="27.6" textLength="124.4" lengthAdjust="spacingAndGlyphs">Module 4</text>
<text x="7.8" y="685.5" font-size="27.6" textLength="124.4" lengthAdjust="spacingAndGlyphs">Module 5</text>
<text transform="translate(199.6 280.2) rotate(-90)" font-size="27.2" text-anchor="middle" textLength="64.4" lengthAdjust="spacingAndGlyphs">1148</text>
<text transform="translate(199.6 422.9) rotate(-90)" font-size="27.2" text-anchor="middle" textLength="49.4" lengthAdjust="spacingAndGlyphs">998</text>
<text transform="translate(199.6 525) rotate(-90)" font-size="27.2" text-anchor="middle" textLength="48.3" lengthAdjust="spacingAndGlyphs">432</text>
<text transform="translate(199.6 606.1) rotate(-90)" font-size="27.2" text-anchor="middle" textLength="47" lengthAdjust="spacingAndGlyphs">531</text>
<text transform="translate(199.6 674) rotate(-90)" font-size="27.2" text-anchor="middle" textLength="47" lengthAdjust="spacingAndGlyphs">451</text>
<text x="776.3" y="27.4" font-size="27.2" textLength="32.6" lengthAdjust="spacingAndGlyphs">(b)</text>
<rect x="949" y="133" width="45" height="170.7" fill="#00eeee"/>
<rect x="994" y="133" width="44" height="170.7" fill="#00eeee"/>
<rect x="1038" y="133" width="45" height="170.7" fill="#00eeee"/>
<rect x="1083" y="133" width="45" height="170.7" fill="#00eeee"/>
<rect x="949" y="312.1" width="45" height="148.6" fill="#fffe00"/>
<rect x="994" y="312.1" width="44" height="148.6" fill="#fffe00"/>
<rect x="1038" y="312.1" width="45" height="148.6" fill="#fffe00"/>
<rect x="1083" y="312.1" width="45" height="148.6" fill="#fffe00"/>
<rect x="949" y="469.4" width="45" height="65.1" fill="#fffe00"/>
<rect x="994" y="469.4" width="44" height="65.1" fill="#fffe00"/>
<rect x="1038" y="469.4" width="45" height="65.1" fill="#fffe00"/>
<rect x="1083" y="469.4" width="45" height="65.1" fill="#fffe00"/>
<rect x="949" y="542.8" width="45" height="79" fill="#000000"/>
<rect x="994" y="542.8" width="44" height="79" fill="#00eeee"/>
<rect x="1038" y="542.8" width="45" height="79" fill="#00eeee"/>
<rect x="1083" y="542.8" width="45" height="79" fill="#000000"/>
<rect x="949" y="630.2" width="45" height="67.6" fill="#000000"/>
<rect x="994" y="630.2" width="44" height="67.6" fill="#fffe00"/>
<rect x="1038" y="630.2" width="45" height="67.6" fill="#fffe00"/>
<rect x="1083" y="630.2" width="45" height="67.6" fill="#fffe00"/>
<rect x="949" y="150.7" width="45" height="1" fill="#000" fill-opacity="0.24"/>
<rect x="949" y="162.6" width="45" height="1" fill="#000" fill-opacity="0.24"/>
<rect x="949" y="226.9" width="45" height="1" fill="#000" fill-opacity="0.24"/>
<rect x="949" y="245" width="45" height="1" fill="#000" fill-opacity="0.24"/>
<rect x="949" y="259" width="45" height="1" fill="#000" fill-opacity="0.48"/>
<rect x="949" y="264.9" width="45" height="1" fill="#000" fill-opacity="0.95"/>
<rect x="949" y="278" width="45" height="1" fill="#000" fill-opacity="0.48"/>
<rect x="949" y="297.9" width="45" height="1" fill="#000" fill-opacity="0.95"/>
<rect x="949" y="329.9" width="45" height="1" fill="#000" fill-opacity="0.72"/>
<rect x="949" y="338" width="45" height="1" fill="#000" fill-opacity="0.48"/>
<rect x="949" y="343.9" width="45" height="1" fill="#000" fill-opacity="0.72"/>
<rect x="949" y="387.1" width="45" height="1" fill="#000" fill-opacity="0.24"/>
<rect x="949" y="407.7" width="45" height="1" fill="#000" fill-opacity="0.24"/>
<rect x="949" y="430" width="45" height="1" fill="#000" fill-opacity="0.72"/>
<rect x="949" y="431.9" width="45" height="1" fill="#000" fill-opacity="0.24"/>
<rect x="949" y="693.1" width="45" height="1" fill="#00b8b8" fill-opacity="0.95"/>
<rect x="994" y="137.3" width="44" height="1.4" fill="#000" fill-opacity="0.95"/>
<rect x="994" y="140.1" width="44" height="1" fill="#000" fill-opacity="0.72"/>
<rect x="994" y="141.9" width="44" height="1" fill="#000" fill-opacity="0.48"/>
<rect x="994" y="144.8" width="44" height="1" fill="#000" fill-opacity="0.95"/>
<rect x="994" y="150.7" width="44" height="1" fill="#000" fill-opacity="0.24"/>
<rect x="994" y="162.6" width="44" height="1" fill="#000" fill-opacity="0.24"/>
<rect x="994" y="173.1" width="44" height="1" fill="#000" fill-opacity="0.24"/>
<rect x="994" y="174.9" width="44" height="1" fill="#000" fill-opacity="0.24"/>
<rect x="994" y="182" width="44" height="1" fill="#000" fill-opacity="0.24"/>
<rect x="994" y="184.1" width="44" height="1" fill="#000" fill-opacity="0.24"/>
<rect x="994" y="191.8" width="44" height="1" fill="#000" fill-opacity="0.95"/>
<rect x="994" y="202" width="44" height="1" fill="#000" fill-opacity="0.24"/>
<rect x="994" y="203.7" width="44" height="1" fill="#000" fill-opacity="0.95"/>
<rect x="994" y="205.9" width="44" height="1" fill="#000" fill-opacity="0.72"/>
<rect x="994" y="212.8" width="44" height="1" fill="#000" fill-opacity="0.95"/>
<rect x="994" y="217.8" width="44" height="1" fill="#000" fill-opacity="0.72"/>
<rect x="994" y="223.5" width="44" height="1" fill="#000" fill-opacity="0.11"/>
<rect x="994" y="225" width="44" height="1" fill="#000" fill-opacity="0.24"/>
<rect x="994" y="226.9" width="44" height="1" fill="#000" fill-opacity="0.95"/>
<rect x="994" y="232.8" width="44" height="1" fill="#000" fill-opacity="0.72"/>
<rect x="994" y="234.8" width="44" height="1" fill="#000" fill-opacity="0.72"/>
<rect x="994" y="239.95" width="44" height="1.5" fill="#000" fill-opacity="0.95"/>
<rect x="994" y="245" width="44" height="1" fill="#000" fill-opacity="0.24"/>
<rect x="994" y="249.9" width="44" height="1" fill="#000" fill-opacity="0.95"/>
<rect x="994" y="253.8" width="44" height="1" fill="#000" fill-opacity="0.24"/>
<rect x="994" y="256.8" width="44" height="1" fill="#000" fill-opacity="0.48"/>
<rect x="994" y="264.6" width="44" height="1.6" fill="#000" fill-opacity="0.95"/>
<rect x="994" y="273.9" width="44" height="1" fill="#000" fill-opacity="0.95"/>
<rect x="994" y="276.7" width="44" height="1.4" fill="#000" fill-opacity="0.48"/>
<rect x="994" y="278.3" width="44" height="1.4" fill="#000" fill-opacity="0.72"/>
<rect x="994" y="279.8" width="44" height="1.6" fill="#000" fill-opacity="0.95"/>
<rect x="994" y="283.9" width="44" height="1" fill="#000" fill-opacity="0.48"/>
<rect x="994" y="286.9" width="44" height="1" fill="#000" fill-opacity="0.24"/>
<rect x="994" y="293.7" width="44" height="1" fill="#000" fill-opacity="0.48"/>
<rect x="994" y="295.7" width="44" height="1" fill="#000" fill-opacity="0.48"/>
<rect x="994" y="297.75" width="44" height="1.3" fill="#000" fill-opacity="0.72"/>
<rect x="994" y="299.15" width="44" height="1.3" fill="#000" fill-opacity="0.95"/>
<rect x="994" y="302.1" width="44" height="1" fill="#000" fill-opacity="0.72"/>
<rect x="994" y="315" width="44" height="1" fill="#000" fill-opacity="0.72"/>
<rect x="994" y="316.9" width="44" height="2" fill="#000" fill-opacity="0.48"/>
<rect x="994" y="321.85" width="44" height="1.5" fill="#000" fill-opacity="0.72"/>
<rect x="994" y="330.25" width="44" height="1.7" fill="#000" fill-opacity="0.72"/>
<rect x="994" y="335" width="44" height="1" fill="#000" fill-opacity="0.24"/>
<rect x="994" y="337" width="44" height="1" fill="#000" fill-opacity="0.48"/>
<rect x="994" y="341.9" width="44" height="1" fill="#000" fill-opacity="0.48"/>
<rect x="994" y="343.9" width="44" height="1" fill="#000" fill-opacity="0.72"/>
<rect x="994" y="357" width="44" height="1" fill="#000" fill-opacity="0.72"/>
<rect x="994" y="359" width="44" height="1" fill="#000" fill-opacity="0.72"/>
<rect x="994" y="368" width="44" height="1" fill="#000" fill-opacity="0.72"/>
<rect x="994" y="369.1" width="44" height="1" fill="#00c8a0" fill-opacity="0.48"/>
<rect x="994" y="371" width="44" height="1" fill="#000" fill-opacity="0.72"/>
<rect x="994" y="380" width="44" height="1" fill="#000" fill-opacity="0.72"/>
<rect x="994" y="382" width="44" height="1" fill="#000" fill-opacity="0.72"/>
<rect x="994" y="383.9" width="44" height="1" fill="#000" fill-opacity="0.24"/>
<rect x="994" y="385.9" width="44" height="1" fill="#000" fill-opacity="0.72"/>
<rect x="994" y="387.1" width="44" height="1" fill="#000" fill-opacity="0.24"/>
<rect x="994" y="390" width="44" height="1" fill="#103818" fill-opacity="0.72"/>
<rect x="994" y="392.8" width="44" height="1" fill="#000" fill-opacity="0.72"/>
<rect x="994" y="395.9" width="44" height="1" fill="#000" fill-opacity="0.72"/>
<rect x="994" y="398.8" width="44" height="1" fill="#000" fill-opacity="0.72"/>
<rect x="994" y="401.3" width="44" height="1" fill="#000" fill-opacity="0.48"/>
<rect x="994" y="403.2" width="44" height="1" fill="#000" fill-opacity="0.24"/>
<rect x="994" y="406" width="44" height="1" fill="#000" fill-opacity="0.72"/>
<rect x="994" y="408" width="44" height="1" fill="#000" fill-opacity="0.24"/>
<rect x="994" y="410.1" width="44" height="1" fill="#000" fill-opacity="0.24"/>
<rect x="994" y="411.9" width="44" height="1" fill="#000" fill-opacity="0.72"/>
<rect x="994" y="428" width="44" height="1" fill="#000" fill-opacity="0.48"/>
<rect x="994" y="430" width="44" height="1" fill="#000" fill-opacity="0.72"/>
<rect x="994" y="431.9" width="44" height="1" fill="#000" fill-opacity="0.24"/>
<rect x="994" y="437" width="44" height="1" fill="#000" fill-opacity="0.48"/>
<rect x="994" y="442" width="44" height="1" fill="#000" fill-opacity="0.72"/>
<rect x="994" y="447" width="44" height="1" fill="#000" fill-opacity="0.72"/>
<rect x="994" y="471" width="44" height="1" fill="#000" fill-opacity="0.72"/>
<rect x="994" y="476.1" width="44" height="1.6" fill="#000" fill-opacity="0.95"/>
<rect x="994" y="481.2" width="44" height="1" fill="#000" fill-opacity="0.48"/>
<rect x="994" y="482.7" width="44" height="1" fill="#000" fill-opacity="0.48"/>
<rect x="994" y="486.6" width="44" height="1" fill="#000" fill-opacity="0.95"/>
<rect x="994" y="490" width="44" height="1" fill="#000" fill-opacity="0.72"/>
<rect x="994" y="492" width="44" height="1" fill="#000" fill-opacity="0.72"/>
<rect x="994" y="494.9" width="44" height="1" fill="#000" fill-opacity="0.95"/>
<rect x="994" y="498.9" width="44" height="1" fill="#000" fill-opacity="0.95"/>
<rect x="994" y="509.9" width="44" height="1" fill="#000" fill-opacity="0.48"/>
<rect x="994" y="512" width="44" height="1" fill="#000" fill-opacity="0.48"/>
<rect x="994" y="515" width="44" height="1" fill="#000" fill-opacity="0.48"/>
<rect x="994" y="518.7" width="44" height="1" fill="#000" fill-opacity="0.48"/>
<rect x="994" y="521.8" width="44" height="1" fill="#000" fill-opacity="0.72"/>
<rect x="994" y="524.8" width="44" height="1" fill="#000" fill-opacity="0.72"/>
<rect x="994" y="528" width="44" height="1" fill="#000" fill-opacity="0.48"/>
<rect x="994" y="542.9" width="44" height="1" fill="#000" fill-opacity="0.72"/>
<rect x="994" y="564.1" width="44" height="1" fill="#000" fill-opacity="0.24"/>
<rect x="994" y="566.6" width="44" height="1" fill="#000" fill-opacity="0.72"/>
<rect x="994" y="570.9" width="44" height="1" fill="#000" fill-opacity="0.95"/>
<rect x="994" y="578.8" width="44" height="1" fill="#000" fill-opacity="0.24"/>
<rect x="994" y="592" width="44" height="1" fill="#000" fill-opacity="0.95"/>
<rect x="994" y="593.9" width="44" height="1" fill="#000" fill-opacity="0.95"/>
<rect x="994" y="598.8" width="44" height="1" fill="#000" fill-opacity="0.24"/>
<rect x="994" y="603.6" width="44" height="1.6" fill="#000" fill-opacity="0.24"/>
<rect x="994" y="606.9" width="44" height="1" fill="#000" fill-opacity="0.95"/>
<rect x="994" y="611" width="44" height="1" fill="#000" fill-opacity="0.48"/>
<rect x="994" y="613.7" width="44" height="1" fill="#000" fill-opacity="0.95"/>
<rect x="994" y="618.3" width="44" height="1" fill="#000" fill-opacity="0.24"/>
<rect x="994" y="631.9" width="44" height="1" fill="#000" fill-opacity="0.95"/>
<rect x="994" y="637.8" width="44" height="1" fill="#000" fill-opacity="0.95"/>
<rect x="994" y="645.85" width="44" height="1.7" fill="#000" fill-opacity="0.95"/>
<rect x="994" y="651.6" width="44" height="1" fill="#000" fill-opacity="0.95"/>
<rect x="994" y="653.8" width="44" height="1" fill="#000" fill-opacity="0.72"/>
<rect x="994" y="655.9" width="44" height="1" fill="#000" fill-opacity="0.48"/>
<rect x="994" y="657.9" width="44" height="1" fill="#000" fill-opacity="0.72"/>
<rect x="994" y="659.9" width="44" height="1" fill="#000" fill-opacity="0.72"/>
<rect x="994" y="664" width="44" height="1" fill="#000" fill-opacity="0.95"/>
<rect x="994" y="669.1" width="44" height="1" fill="#000" fill-opacity="0.72"/>
<rect x="994" y="676" width="44" height="1" fill="#000" fill-opacity="0.95"/>
<rect x="994" y="686.9" width="44" height="0.8" fill="#000" fill-opacity="0.72"/>
<rect x="1038" y="168.2" width="45" height="1" fill="#000" fill-opacity="0.11"/>
<rect x="1038" y="179" width="45" height="1" fill="#000" fill-opacity="0.24"/>
<rect x="1038" y="204" width="45" height="1" fill="#000" fill-opacity="0.11"/>
<rect x="1038" y="230.1" width="45" height="1" fill="#000" fill-opacity="0.24"/>
<rect x="1038" y="241.6" width="45" height="1" fill="#000" fill-opacity="0.24"/>
<rect x="1038" y="374.7" width="45" height="1" fill="#000" fill-opacity="0.24"/>
<rect x="1038" y="387.1" width="45" height="1" fill="#000" fill-opacity="0.24"/>
<rect x="1038" y="528" width="45" height="1" fill="#000" fill-opacity="0.48"/>
<rect x="1038" y="549.9" width="45" height="1" fill="#000" fill-opacity="0.72"/>
<rect x="1038" y="570.9" width="45" height="1" fill="#000" fill-opacity="0.48"/>
<rect x="1038" y="573.1" width="45" height="1" fill="#000" fill-opacity="0.72"/>
<rect x="1038" y="574.9" width="45" height="1" fill="#000" fill-opacity="0.95"/>
<rect x="1038" y="588" width="45" height="1" fill="#000" fill-opacity="0.72"/>
<rect x="1038" y="598" width="45" height="1" fill="#000" fill-opacity="0.11"/>
<rect x="1038" y="605.9" width="45" height="1" fill="#000" fill-opacity="0.24"/>
<rect x="1038" y="619.1" width="45" height="1" fill="#000" fill-opacity="0.24"/>
<rect x="1038" y="647.9" width="45" height="1" fill="#000" fill-opacity="0.11"/>
<rect x="1038" y="686.9" width="45" height="0.8" fill="#000" fill-opacity="0.72"/>
<rect x="1038" y="694" width="45" height="1" fill="#000" fill-opacity="0.11"/>
<rect x="1083" y="149.9" width="45" height="1" fill="#000" fill-opacity="0.24"/>
<rect x="1083" y="170.5" width="45" height="1" fill="#000" fill-opacity="0.24"/>
<rect x="1083" y="173.9" width="45" height="1" fill="#000" fill-opacity="0.95"/>
<rect x="1083" y="202" width="45" height="1" fill="#000" fill-opacity="0.11"/>
<rect x="1083" y="213.7" width="45" height="1" fill="#000" fill-opacity="0.48"/>
<rect x="1083" y="230.9" width="45" height="1" fill="#000" fill-opacity="0.48"/>
<rect x="1083" y="234" width="45" height="1" fill="#000" fill-opacity="0.48"/>
<rect x="1083" y="236.2" width="45" height="1" fill="#000" fill-opacity="0.24"/>
<rect x="1083" y="241.1" width="45" height="1" fill="#000" fill-opacity="0.48"/>
<rect x="1083" y="244.3" width="45" height="1" fill="#000" fill-opacity="0.48"/>
<rect x="1083" y="245.9" width="45" height="1" fill="#000" fill-opacity="0.48"/>
<rect x="1083" y="259" width="45" height="1" fill="#000" fill-opacity="0.95"/>
<rect x="1083" y="275.9" width="45" height="1" fill="#000" fill-opacity="0.72"/>
<rect x="1083" y="278.5" width="45" height="1.6" fill="#000" fill-opacity="0.72"/>
<rect x="1083" y="281.8" width="45" height="1" fill="#000" fill-opacity="0.48"/>
<rect x="1083" y="294" width="45" height="1" fill="#000" fill-opacity="0.24"/>
<rect x="1083" y="297.5" width="45" height="1" fill="#000" fill-opacity="0.11"/>
<rect x="1083" y="317.7" width="45" height="1" fill="#000" fill-opacity="0.72"/>
<rect x="1083" y="327.9" width="45" height="1" fill="#000" fill-opacity="0.72"/>
<rect x="1083" y="335.8" width="45" height="1" fill="#000" fill-opacity="0.72"/>
<rect x="1083" y="356.55" width="45" height="1.5" fill="#000" fill-opacity="0.72"/>
<rect x="1083" y="362.9" width="45" height="1" fill="#000" fill-opacity="0.72"/>
<rect x="1083" y="368" width="45" height="1" fill="#000" fill-opacity="0.24"/>
<rect x="1083" y="371" width="45" height="1" fill="#000" fill-opacity="0.72"/>
<rect x="1083" y="387.1" width="45" height="1" fill="#000" fill-opacity="0.24"/>
<rect x="1083" y="392.8" width="45" height="2" fill="#000" fill-opacity="0.72"/>
<rect x="1083" y="407.7" width="45" height="1" fill="#000" fill-opacity="0.72"/>
<rect x="1083" y="411.55" width="45" height="1.5" fill="#000" fill-opacity="0.72"/>
<rect x="1083" y="421.9" width="45" height="1" fill="#000" fill-opacity="0.24"/>
<rect x="1083" y="425" width="45" height="1" fill="#000" fill-opacity="0.24"/>
<rect x="1083" y="428" width="45" height="1" fill="#000" fill-opacity="0.48"/>
<rect x="1083" y="442" width="45" height="1" fill="#000" fill-opacity="0.72"/>
<rect x="1083" y="447" width="45" height="1" fill="#000" fill-opacity="0.72"/>
<rect x="1083" y="454.9" width="45" height="2" fill="#000" fill-opacity="0.48"/>
<rect x="1083" y="458" width="45" height="1" fill="#000" fill-opacity="0.24"/>
<rect x="1083" y="476.8" width="45" height="1" fill="#000" fill-opacity="0.48"/>
<rect x="1083" y="479.8" width="45" height="1" fill="#000" fill-opacity="0.48"/>
<rect x="1083" y="483.9" width="45" height="1" fill="#000" fill-opacity="0.48"/>
<rect x="1083" y="495.9" width="45" height="1" fill="#000" fill-opacity="0.95"/>
<rect x="1083" y="500.8" width="45" height="1" fill="#000" fill-opacity="0.72"/>
<rect x="1083" y="507" width="45" height="1" fill="#000" fill-opacity="0.48"/>
<rect x="1083" y="515.8" width="45" height="1" fill="#000" fill-opacity="0.48"/>
<rect x="1083" y="526.7" width="45" height="2" fill="#000" fill-opacity="0.24"/>
<rect x="1083" y="532.5" width="45" height="1" fill="#000" fill-opacity="0.24"/>
<rect x="1083" y="630.1" width="45" height="1" fill="#5060a0" fill-opacity="0.48"/>
<rect x="1083" y="633.9" width="45" height="1" fill="#000" fill-opacity="0.24"/>
<rect x="1083" y="636.9" width="45" height="1" fill="#000" fill-opacity="0.95"/>
<rect x="1083" y="639" width="45" height="1" fill="#000" fill-opacity="0.72"/>
<rect x="1083" y="644.9" width="45" height="1" fill="#000" fill-opacity="0.11"/>
<rect x="1083" y="651.5" width="45" height="1" fill="#000" fill-opacity="0.11"/>
<rect x="1083" y="655.9" width="45" height="1" fill="#000" fill-opacity="0.11"/>
<rect x="1083" y="664.8" width="45" height="1" fill="#000" fill-opacity="0.95"/>
<rect x="1083" y="669.9" width="45" height="1" fill="#000" fill-opacity="0.95"/>
<rect x="1083" y="672" width="45" height="1" fill="#000" fill-opacity="0.72"/>
<rect x="1083" y="680.9" width="45" height="1" fill="#000" fill-opacity="0.72"/>
<rect x="1083" y="694" width="45" height="1" fill="#000" fill-opacity="0.95"/>
<rect x="949" y="469.41" width="45" height="1.53" fill="#000" fill-opacity="0.7"/>
<rect x="949" y="470.95" width="45" height="1.73" fill="#000" fill-opacity="1"/>
<rect x="949" y="472.67" width="45" height="0.77" fill="#000" fill-opacity="0.25"/>
<rect x="949" y="475.07" width="45" height="0.67" fill="#000" fill-opacity="0.9"/>
<rect x="949" y="475.74" width="45" height="1.53" fill="#000" fill-opacity="1"/>
<rect x="949" y="477.28" width="45" height="2.11" fill="#000" fill-opacity="0.85"/>
<rect x="949" y="481.11" width="45" height="4.51" fill="#000" fill-opacity="1"/>
<rect x="949" y="486.58" width="45" height="1.44" fill="#000" fill-opacity="1"/>
<rect x="949" y="488.02" width="45" height="2.11" fill="#000" fill-opacity="0.7"/>
<rect x="949" y="490.13" width="45" height="1.53" fill="#000" fill-opacity="0.62"/>
<rect x="949" y="491.66" width="45" height="0.67" fill="#000" fill-opacity="0.45"/>
<rect x="949" y="492.33" width="45" height="1.44" fill="#000" fill-opacity="0.25"/>
<rect x="949" y="493.77" width="45" height="1.15" fill="#000" fill-opacity="1"/>
<rect x="949" y="494.92" width="45" height="1.73" fill="#000" fill-opacity="0.66"/>
<rect x="949" y="496.65" width="45" height="1.92" fill="#000" fill-opacity="1"/>
<rect x="949" y="498.57" width="45" height="0.77" fill="#000" fill-opacity="0.2"/>
<rect x="949" y="499.33" width="45" height="1.63" fill="#000" fill-opacity="1"/>
<rect x="949" y="500.96" width="45" height="1.63" fill="#000" fill-opacity="0.22"/>
<rect x="949" y="502.59" width="45" height="1.25" fill="#000" fill-opacity="1"/>
<rect x="949" y="503.84" width="45" height="1.92" fill="#000" fill-opacity="0.66"/>
<rect x="949" y="505.76" width="45" height="1.44" fill="#000" fill-opacity="0.6"/>
<rect x="949" y="507.2" width="45" height="1.15" fill="#000" fill-opacity="0.3"/>
<rect x="949" y="508.35" width="45" height="1.53" fill="#000" fill-opacity="1"/>
<rect x="949" y="512.95" width="45" height="1.44" fill="#000" fill-opacity="1"/>
<rect x="949" y="515.25" width="45" height="0.58" fill="#000" fill-opacity="0.4"/>
<rect x="949" y="516.79" width="45" height="0.77" fill="#000" fill-opacity="0.9"/>
<rect x="949" y="519.67" width="45" height="1.92" fill="#000" fill-opacity="1"/>
<rect x="949" y="523.98" width="45" height="1.25" fill="#000" fill-opacity="1"/>
<rect x="949" y="525.23" width="45" height="1.15" fill="#000" fill-opacity="0.35"/>
<rect x="949" y="526.38" width="45" height="1.15" fill="#000" fill-opacity="1"/>
<rect x="949" y="527.53" width="45" height="1.25" fill="#000" fill-opacity="0.8"/>
<rect x="949" y="532.61" width="45" height="1.63" fill="#000" fill-opacity="0.95"/>
<rect x="949" y="534" width="45" height="0.7" fill="#9090c0" fill-opacity="0.7"/>
<rect x="949" y="545" width="45" height="1" fill="#807800"/>
<rect x="949" y="546.8" width="45" height="1.8" fill="#fff200"/>
<rect x="949" y="551.9" width="45" height="1" fill="#b0a800"/>
<rect x="949" y="556.7" width="45" height="1.2" fill="#fff200"/>
<rect x="949" y="560.6" width="45" height="1.2" fill="#fff200"/>
<rect x="949" y="567.4" width="45" height="2.2" fill="#5a5400"/>
<rect x="949" y="573.7" width="45" height="1.2" fill="#6a6400"/>
<rect x="949" y="576.7" width="45" height="1.2" fill="#fff200"/>
<rect x="949" y="578.85" width="45" height="1.9" fill="#fff200"/>
<rect x="949" y="582.7" width="45" height="1" fill="#5a5400"/>
<rect x="949" y="584.9" width="45" height="1" fill="#5a5400"/>
<rect x="949" y="587" width="45" height="1" fill="#fff200"/>
<rect x="949" y="589" width="45" height="1" fill="#fff200"/>
<rect x="949" y="590.95" width="45" height="1.1" fill="#fff200"/>
<rect x="949" y="599.8" width="45" height="1" fill="#b0a800"/>
<rect x="949" y="610.4" width="45" height="1.4" fill="#5a5400"/>
<rect x="949" y="613.15" width="45" height="1.1" fill="#fff200"/>
<rect x="949" y="615.7" width="45" height="1" fill="#3a3600"/>
<rect x="949" y="619.1" width="45" height="1" fill="#003838"/>
<rect x="1083" y="558.6" width="45" height="1.2" fill="#004848"/>
<rect x="1083" y="564.1" width="45" height="1" fill="#007070"/>
<rect x="1083" y="577.5" width="45" height="1" fill="#001c1c"/>
<rect x="1083" y="591" width="45" height="1" fill="#a0f040"/>
<rect x="1083" y="598" width="45" height="1" fill="#2a2800"/>
<rect x="1083" y="601" width="45" height="1" fill="#003030"/>
<rect x="1083" y="605.8" width="45" height="1.2" fill="#1c1c00"/>
<rect x="1083" y="608" width="45" height="1.2" fill="#002828"/>
<rect x="1083" y="612" width="45" height="1" fill="#001c1c"/>
<text transform="translate(980.7 128.5) rotate(-90)" font-size="23.7">tumor size</text>
<text transform="translate(1024.7 128) rotate(-90)" font-size="23.7">lymph node</text>
<text transform="translate(1069.4 128) rotate(-90)" font-size="23.7">grade</text>
<text transform="translate(1114.2 128) rotate(-90)" font-size="23.7">survival</text>
<path d="M938 135.3 L930.3 135.5 Q924.6 135.7 924.6 140.5 L924.6 216.8 Q924.6 221 911 221 Q924.6 221 924.6 225.2 L924.6 300.9 Q924.6 305.7 930.3 305.9 L938 306.1" stroke="#4472C4" stroke-width="2.3" fill="none" stroke-linecap="round"/>
<path d="M938 322.5 L930.3 322.7 Q924.6 322.9 924.6 327.7 L924.6 388.4 Q924.6 392.6 911 392.6 Q924.6 392.6 924.6 396.8 L924.6 457.2 Q924.6 462 930.3 462.2 L938 462.4" stroke="#4472C4" stroke-width="2.3" fill="none" stroke-linecap="round"/>
<path d="M938.2 472.6 L930.5 472.8 Q924.8 473 924.8 477.8 L924.8 499 Q924.8 503.2 911.2 503.2 Q924.8 503.2 924.8 507.4 L924.8 529.7 Q924.8 534.5 930.5 534.7 L938.2 534.9" stroke="#4472C4" stroke-width="2.3" fill="none" stroke-linecap="round"/>
<path d="M938.2 535.8 L930.5 536 Q924.8 536.2 924.8 541 L924.8 572.9 Q924.8 577.1 911.2 577.1 Q924.8 577.1 924.8 581.3 L924.8 613.8 Q924.8 618.6 930.5 618.8 L938.2 619" stroke="#4472C4" stroke-width="2.3" fill="none" stroke-linecap="round"/>
<path d="M939.7 629.7 L932 629.9 Q926.3 630.1 926.3 634.9 L926.3 658.1 Q926.3 662.3 912.7 662.3 Q926.3 662.3 926.3 666.5 L926.3 691.7 Q926.3 696.5 932 696.7 L939.7 696.9" stroke="#4472C4" stroke-width="2.3" fill="none" stroke-linecap="round"/>
<text x="813.6" y="228.7" font-size="19.6" font-weight="bold" textLength="90.8" lengthAdjust="spacingAndGlyphs">Module 1</text>
<text x="813.6" y="399.7" font-size="19.6" font-weight="bold" textLength="90.8" lengthAdjust="spacingAndGlyphs">Module 2</text>
<text x="813.6" y="509.9" font-size="19.6" font-weight="bold" textLength="90.8" lengthAdjust="spacingAndGlyphs">Module 3</text>
<text x="813.6" y="585.7" font-size="19.6" font-weight="bold" textLength="90.8" lengthAdjust="spacingAndGlyphs">Module 4</text>
<text x="813.6" y="668.9" font-size="19.6" font-weight="bold" textLength="90.8" lengthAdjust="spacingAndGlyphs">Module 5</text>
<text x="1153.4" y="226.8" font-size="20" textLength="22.2" lengthAdjust="spacingAndGlyphs">C1</text>
<text x="1153.4" y="388" font-size="20" textLength="22.2" lengthAdjust="spacingAndGlyphs">C2</text>
<text x="1153.4" y="506.1" font-size="20" textLength="22.2" lengthAdjust="spacingAndGlyphs">C3</text>
<text x="1153.4" y="588.8" font-size="20" textLength="22.2" lengthAdjust="spacingAndGlyphs">C4</text>
<text x="1153.4" y="673.5" font-size="20" textLength="22.2" lengthAdjust="spacingAndGlyphs">C5</text>
<text x="937.3" y="718.4" font-size="15.4" font-weight="bold" textLength="198.9" lengthAdjust="spacingAndGlyphs">Signed AW-Fisher weights</text>
<rect x="938.6" y="726" width="16.4" height="15.7" fill="#fffe00"/>
<text x="959.4" y="739.9" font-size="15.3">-1</text>
<rect x="938.6" y="744.2" width="16.4" height="15.7" fill="#000000"/>
<text x="959.4" y="757.7" font-size="15.3">0</text>
<rect x="938.6" y="762.1" width="16.4" height="15.7" fill="#00eeee"/>
<text x="959.4" y="775.7" font-size="15.3">1</text>
</svg>
</body></html>
